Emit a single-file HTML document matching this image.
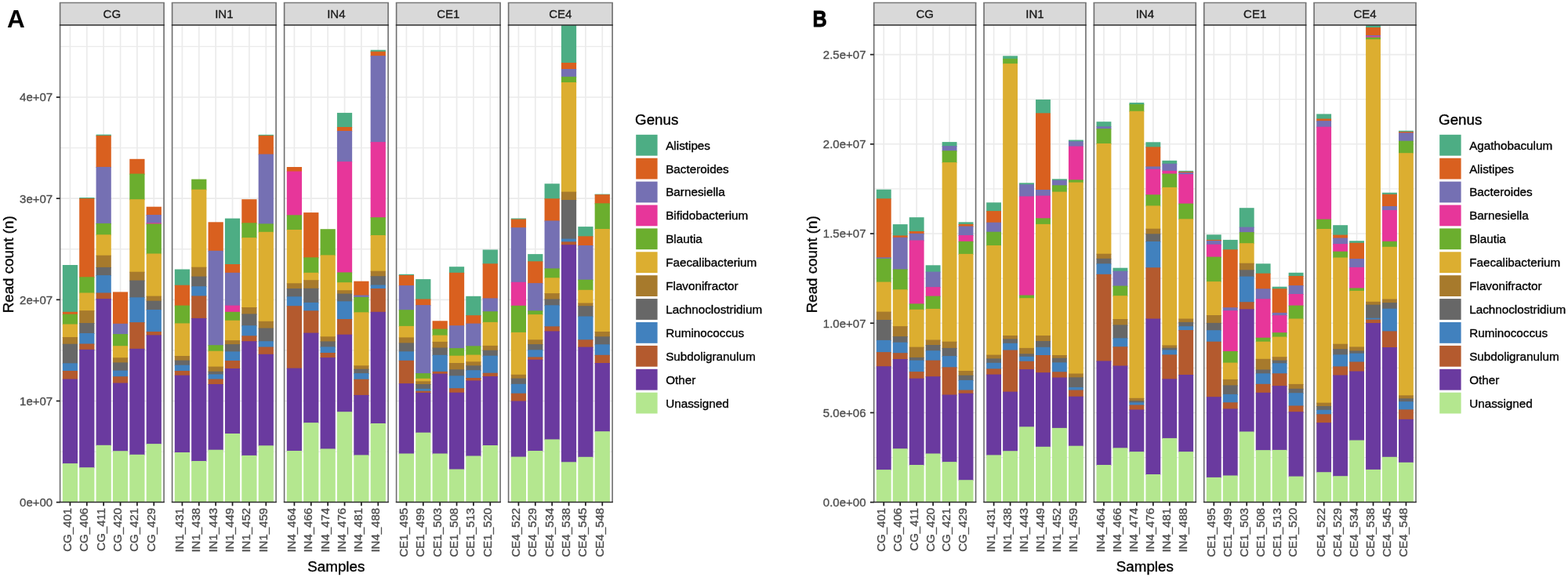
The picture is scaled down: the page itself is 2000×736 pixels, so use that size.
<!DOCTYPE html><html><head><meta charset="utf-8"><style>html,body{margin:0;padding:0;background:#fff;}svg{display:block;}text{paint-order:stroke;stroke-width:0.35px;stroke-linejoin:round;}</style></head><body>
<svg width="2000" height="736" viewBox="0 0 2000 736" font-family="'Liberation Sans', Arial, Helvetica, sans-serif">
<rect width="2000" height="736" fill="#fff"/>
<line x1="76.6" y1="576.07" x2="209.1" y2="576.07" stroke="#EBEBEB" stroke-width="1.3"/>
<line x1="76.6" y1="446.91" x2="209.1" y2="446.91" stroke="#EBEBEB" stroke-width="1.3"/>
<line x1="76.6" y1="317.75" x2="209.1" y2="317.75" stroke="#EBEBEB" stroke-width="1.3"/>
<line x1="76.6" y1="188.59" x2="209.1" y2="188.59" stroke="#EBEBEB" stroke-width="1.3"/>
<line x1="76.6" y1="59.43" x2="209.1" y2="59.43" stroke="#EBEBEB" stroke-width="1.3"/>
<line x1="76.6" y1="640.65" x2="209.1" y2="640.65" stroke="#EBEBEB" stroke-width="1.6"/>
<line x1="76.6" y1="511.49" x2="209.1" y2="511.49" stroke="#EBEBEB" stroke-width="1.6"/>
<line x1="76.6" y1="382.33" x2="209.1" y2="382.33" stroke="#EBEBEB" stroke-width="1.6"/>
<line x1="76.6" y1="253.17" x2="209.1" y2="253.17" stroke="#EBEBEB" stroke-width="1.6"/>
<line x1="76.6" y1="124.01" x2="209.1" y2="124.01" stroke="#EBEBEB" stroke-width="1.6"/>
<line x1="89.42" y1="32.0" x2="89.42" y2="640.5" stroke="#EBEBEB" stroke-width="1.7"/>
<line x1="110.79" y1="32.0" x2="110.79" y2="640.5" stroke="#EBEBEB" stroke-width="1.7"/>
<line x1="132.16" y1="32.0" x2="132.16" y2="640.5" stroke="#EBEBEB" stroke-width="1.7"/>
<line x1="153.54" y1="32.0" x2="153.54" y2="640.5" stroke="#EBEBEB" stroke-width="1.7"/>
<line x1="174.91" y1="32.0" x2="174.91" y2="640.5" stroke="#EBEBEB" stroke-width="1.7"/>
<line x1="196.28" y1="32.0" x2="196.28" y2="640.5" stroke="#EBEBEB" stroke-width="1.7"/>
<rect x="79.81" y="338" width="19.23" height="60.8" fill="#4DAD84"/>
<rect x="79.81" y="397.8" width="19.23" height="3.9" fill="#D9601F"/>
<rect x="79.81" y="400.7" width="19.23" height="13.8" fill="#6BAE2E"/>
<rect x="79.81" y="413.5" width="19.23" height="17.5" fill="#DCAE30"/>
<rect x="79.81" y="430" width="19.23" height="9.7" fill="#A77A2C"/>
<rect x="79.81" y="438.7" width="19.23" height="25.6" fill="#676767"/>
<rect x="79.81" y="463.3" width="19.23" height="10.7" fill="#4181BE"/>
<rect x="79.81" y="473" width="19.23" height="11.5" fill="#B45A2E"/>
<rect x="79.81" y="483.5" width="19.23" height="108.6" fill="#6A3A9F"/>
<rect x="79.81" y="591.1" width="19.23" height="49.4" fill="#B4E78F"/>
<rect x="101.18" y="252" width="19.23" height="2.1" fill="#4DAD84"/>
<rect x="101.18" y="253.1" width="19.23" height="101.2" fill="#D9601F"/>
<rect x="101.18" y="353.3" width="19.23" height="21.2" fill="#6BAE2E"/>
<rect x="101.18" y="373.5" width="19.23" height="23.6" fill="#DCAE30"/>
<rect x="101.18" y="396.1" width="19.23" height="16.9" fill="#A77A2C"/>
<rect x="101.18" y="412" width="19.23" height="14" fill="#676767"/>
<rect x="101.18" y="425" width="19.23" height="14.5" fill="#4181BE"/>
<rect x="101.18" y="438.5" width="19.23" height="8.3" fill="#B45A2E"/>
<rect x="101.18" y="445.8" width="19.23" height="151.4" fill="#6A3A9F"/>
<rect x="101.18" y="596.2" width="19.23" height="44.3" fill="#B4E78F"/>
<rect x="122.55" y="171.6" width="19.23" height="2.3" fill="#4DAD84"/>
<rect x="122.55" y="172.9" width="19.23" height="41" fill="#D9601F"/>
<rect x="122.55" y="212.9" width="19.23" height="73" fill="#7570B3"/>
<rect x="122.55" y="284.9" width="19.23" height="15.4" fill="#6BAE2E"/>
<rect x="122.55" y="299.3" width="19.23" height="27.4" fill="#DCAE30"/>
<rect x="122.55" y="325.7" width="19.23" height="16.2" fill="#A77A2C"/>
<rect x="122.55" y="340.9" width="19.23" height="11.2" fill="#676767"/>
<rect x="122.55" y="351.1" width="19.23" height="23.4" fill="#4181BE"/>
<rect x="122.55" y="373.5" width="19.23" height="8.6" fill="#B45A2E"/>
<rect x="122.55" y="381.1" width="19.23" height="187.7" fill="#6A3A9F"/>
<rect x="122.55" y="567.8" width="19.23" height="72.7" fill="#B4E78F"/>
<rect x="143.92" y="372.4" width="19.23" height="41.4" fill="#D9601F"/>
<rect x="143.92" y="412.8" width="19.23" height="14.3" fill="#7570B3"/>
<rect x="143.92" y="426.1" width="19.23" height="16.1" fill="#6BAE2E"/>
<rect x="143.92" y="441.2" width="19.23" height="16" fill="#DCAE30"/>
<rect x="143.92" y="456.2" width="19.23" height="7.2" fill="#A77A2C"/>
<rect x="143.92" y="462.4" width="19.23" height="11.2" fill="#676767"/>
<rect x="143.92" y="472.6" width="19.23" height="8.6" fill="#4181BE"/>
<rect x="143.92" y="480.2" width="19.23" height="9.3" fill="#B45A2E"/>
<rect x="143.92" y="488.5" width="19.23" height="87.7" fill="#6A3A9F"/>
<rect x="143.92" y="575.2" width="19.23" height="65.3" fill="#B4E78F"/>
<rect x="165.29" y="202.8" width="19.23" height="19.8" fill="#D9601F"/>
<rect x="165.29" y="221.6" width="19.23" height="33.6" fill="#6BAE2E"/>
<rect x="165.29" y="254.2" width="19.23" height="93.5" fill="#DCAE30"/>
<rect x="165.29" y="346.7" width="19.23" height="11.9" fill="#A77A2C"/>
<rect x="165.29" y="357.6" width="19.23" height="22.7" fill="#676767"/>
<rect x="165.29" y="379.3" width="19.23" height="32.8" fill="#4181BE"/>
<rect x="165.29" y="411.1" width="19.23" height="34.7" fill="#B45A2E"/>
<rect x="165.29" y="444.8" width="19.23" height="136" fill="#6A3A9F"/>
<rect x="165.29" y="579.8" width="19.23" height="60.7" fill="#B4E78F"/>
<rect x="186.66" y="263.7" width="19.23" height="11.3" fill="#D9601F"/>
<rect x="186.66" y="274" width="19.23" height="11.3" fill="#7570B3"/>
<rect x="186.66" y="284.3" width="19.23" height="2.1" fill="#E7369A"/>
<rect x="186.66" y="285.4" width="19.23" height="39.1" fill="#6BAE2E"/>
<rect x="186.66" y="323.5" width="19.23" height="55.1" fill="#DCAE30"/>
<rect x="186.66" y="377.6" width="19.23" height="7.1" fill="#A77A2C"/>
<rect x="186.66" y="383.7" width="19.23" height="12.3" fill="#676767"/>
<rect x="186.66" y="395" width="19.23" height="29" fill="#4181BE"/>
<rect x="186.66" y="423" width="19.23" height="5.4" fill="#B45A2E"/>
<rect x="186.66" y="427.4" width="19.23" height="139.7" fill="#6A3A9F"/>
<rect x="186.66" y="566.1" width="19.23" height="74.4" fill="#B4E78F"/>
<rect x="76.6" y="3.5" width="132.5" height="28.5" fill="#D9D9D9"/>
<path d="M76.6,640.5 V3.5 M209.1,640.5 V3.5" stroke="#6E6E6E" stroke-width="1.6" fill="none"/>
<path d="M75.8,3.5 H209.9" stroke="#7A7A7A" stroke-width="1.6" fill="none"/>
<path d="M75.8,32 H209.9 M75.8,640.5 H209.9" stroke="#2E2E2E" stroke-width="1.6" fill="none"/>
<text x="142.85" y="23" font-size="15" fill="#1A1A1A" stroke="#1A1A1A" text-anchor="middle">CG</text>
<line x1="89.42" y1="640.5" x2="89.42" y2="645.3" stroke="#1E1E1E" stroke-width="1.7"/>
<text transform="translate(90.82,647.9) rotate(-90)" font-size="15" fill="#4D4D4D" stroke="#4D4D4D" text-anchor="end">CG_401</text>
<line x1="110.79" y1="640.5" x2="110.79" y2="645.3" stroke="#1E1E1E" stroke-width="1.7"/>
<text transform="translate(112.19,647.9) rotate(-90)" font-size="15" fill="#4D4D4D" stroke="#4D4D4D" text-anchor="end">CG_406</text>
<line x1="132.16" y1="640.5" x2="132.16" y2="645.3" stroke="#1E1E1E" stroke-width="1.7"/>
<text transform="translate(133.56,647.9) rotate(-90)" font-size="15" fill="#4D4D4D" stroke="#4D4D4D" text-anchor="end">CG_411</text>
<line x1="153.54" y1="640.5" x2="153.54" y2="645.3" stroke="#1E1E1E" stroke-width="1.7"/>
<text transform="translate(154.94,647.9) rotate(-90)" font-size="15" fill="#4D4D4D" stroke="#4D4D4D" text-anchor="end">CG_420</text>
<line x1="174.91" y1="640.5" x2="174.91" y2="645.3" stroke="#1E1E1E" stroke-width="1.7"/>
<text transform="translate(176.31,647.9) rotate(-90)" font-size="15" fill="#4D4D4D" stroke="#4D4D4D" text-anchor="end">CG_421</text>
<line x1="196.28" y1="640.5" x2="196.28" y2="645.3" stroke="#1E1E1E" stroke-width="1.7"/>
<text transform="translate(197.68,647.9) rotate(-90)" font-size="15" fill="#4D4D4D" stroke="#4D4D4D" text-anchor="end">CG_429</text>
<line x1="219.6" y1="576.07" x2="352.1" y2="576.07" stroke="#EBEBEB" stroke-width="1.3"/>
<line x1="219.6" y1="446.91" x2="352.1" y2="446.91" stroke="#EBEBEB" stroke-width="1.3"/>
<line x1="219.6" y1="317.75" x2="352.1" y2="317.75" stroke="#EBEBEB" stroke-width="1.3"/>
<line x1="219.6" y1="188.59" x2="352.1" y2="188.59" stroke="#EBEBEB" stroke-width="1.3"/>
<line x1="219.6" y1="59.43" x2="352.1" y2="59.43" stroke="#EBEBEB" stroke-width="1.3"/>
<line x1="219.6" y1="640.65" x2="352.1" y2="640.65" stroke="#EBEBEB" stroke-width="1.6"/>
<line x1="219.6" y1="511.49" x2="352.1" y2="511.49" stroke="#EBEBEB" stroke-width="1.6"/>
<line x1="219.6" y1="382.33" x2="352.1" y2="382.33" stroke="#EBEBEB" stroke-width="1.6"/>
<line x1="219.6" y1="253.17" x2="352.1" y2="253.17" stroke="#EBEBEB" stroke-width="1.6"/>
<line x1="219.6" y1="124.01" x2="352.1" y2="124.01" stroke="#EBEBEB" stroke-width="1.6"/>
<line x1="232.42" y1="32.0" x2="232.42" y2="640.5" stroke="#EBEBEB" stroke-width="1.7"/>
<line x1="253.79" y1="32.0" x2="253.79" y2="640.5" stroke="#EBEBEB" stroke-width="1.7"/>
<line x1="275.16" y1="32.0" x2="275.16" y2="640.5" stroke="#EBEBEB" stroke-width="1.7"/>
<line x1="296.54" y1="32.0" x2="296.54" y2="640.5" stroke="#EBEBEB" stroke-width="1.7"/>
<line x1="317.91" y1="32.0" x2="317.91" y2="640.5" stroke="#EBEBEB" stroke-width="1.7"/>
<line x1="339.28" y1="32.0" x2="339.28" y2="640.5" stroke="#EBEBEB" stroke-width="1.7"/>
<rect x="222.81" y="343.5" width="19.23" height="21.2" fill="#4DAD84"/>
<rect x="222.81" y="363.7" width="19.23" height="26.9" fill="#D9601F"/>
<rect x="222.81" y="389.6" width="19.23" height="23.8" fill="#6BAE2E"/>
<rect x="222.81" y="412.4" width="19.23" height="42.6" fill="#DCAE30"/>
<rect x="222.81" y="454" width="19.23" height="6.6" fill="#A77A2C"/>
<rect x="222.81" y="459.6" width="19.23" height="7.1" fill="#676767"/>
<rect x="222.81" y="465.7" width="19.23" height="8.3" fill="#4181BE"/>
<rect x="222.81" y="473" width="19.23" height="6.7" fill="#B45A2E"/>
<rect x="222.81" y="478.7" width="19.23" height="99.3" fill="#6A3A9F"/>
<rect x="222.81" y="577" width="19.23" height="63.5" fill="#B4E78F"/>
<rect x="244.18" y="228.6" width="19.23" height="14.1" fill="#6BAE2E"/>
<rect x="244.18" y="241.7" width="19.23" height="100" fill="#DCAE30"/>
<rect x="244.18" y="340.7" width="19.23" height="12.9" fill="#A77A2C"/>
<rect x="244.18" y="352.6" width="19.23" height="13.6" fill="#676767"/>
<rect x="244.18" y="365.2" width="19.23" height="13.2" fill="#4181BE"/>
<rect x="244.18" y="377.4" width="19.23" height="29.5" fill="#B45A2E"/>
<rect x="244.18" y="405.9" width="19.23" height="183.1" fill="#6A3A9F"/>
<rect x="244.18" y="588" width="19.23" height="52.5" fill="#B4E78F"/>
<rect x="265.55" y="283.3" width="19.23" height="37.5" fill="#D9601F"/>
<rect x="265.55" y="319.8" width="19.23" height="121.4" fill="#7570B3"/>
<rect x="265.55" y="440.2" width="19.23" height="8.5" fill="#6BAE2E"/>
<rect x="265.55" y="447.7" width="19.23" height="20.9" fill="#DCAE30"/>
<rect x="265.55" y="467.6" width="19.23" height="7.1" fill="#A77A2C"/>
<rect x="265.55" y="473.7" width="19.23" height="4.7" fill="#676767"/>
<rect x="265.55" y="477.4" width="19.23" height="7.1" fill="#4181BE"/>
<rect x="265.55" y="483.5" width="19.23" height="7.5" fill="#B45A2E"/>
<rect x="265.55" y="490" width="19.23" height="84.7" fill="#6A3A9F"/>
<rect x="265.55" y="573.7" width="19.23" height="66.8" fill="#B4E78F"/>
<rect x="286.92" y="278.6" width="19.23" height="59.4" fill="#4DAD84"/>
<rect x="286.92" y="337" width="19.23" height="11.8" fill="#D9601F"/>
<rect x="286.92" y="347.8" width="19.23" height="42.8" fill="#7570B3"/>
<rect x="286.92" y="389.6" width="19.23" height="9.2" fill="#E7369A"/>
<rect x="286.92" y="397.8" width="19.23" height="11.9" fill="#6BAE2E"/>
<rect x="286.92" y="408.7" width="19.23" height="26.4" fill="#DCAE30"/>
<rect x="286.92" y="434.1" width="19.23" height="6" fill="#A77A2C"/>
<rect x="286.92" y="439.1" width="19.23" height="10.3" fill="#676767"/>
<rect x="286.92" y="448.4" width="19.23" height="12.6" fill="#4181BE"/>
<rect x="286.92" y="460" width="19.23" height="11" fill="#B45A2E"/>
<rect x="286.92" y="470" width="19.23" height="84" fill="#6A3A9F"/>
<rect x="286.92" y="553" width="19.23" height="87.5" fill="#B4E78F"/>
<rect x="308.29" y="254.2" width="19.23" height="31.1" fill="#D9601F"/>
<rect x="308.29" y="284.3" width="19.23" height="19.8" fill="#6BAE2E"/>
<rect x="308.29" y="303.1" width="19.23" height="89.9" fill="#DCAE30"/>
<rect x="308.29" y="392" width="19.23" height="9.4" fill="#A77A2C"/>
<rect x="308.29" y="400.4" width="19.23" height="15.8" fill="#676767"/>
<rect x="308.29" y="415.2" width="19.23" height="14.1" fill="#4181BE"/>
<rect x="308.29" y="428.3" width="19.23" height="7.9" fill="#B45A2E"/>
<rect x="308.29" y="435.2" width="19.23" height="146.7" fill="#6A3A9F"/>
<rect x="308.29" y="580.9" width="19.23" height="59.6" fill="#B4E78F"/>
<rect x="329.66" y="171.8" width="19.23" height="2.1" fill="#4DAD84"/>
<rect x="329.66" y="172.9" width="19.23" height="24.7" fill="#D9601F"/>
<rect x="329.66" y="196.6" width="19.23" height="89.8" fill="#7570B3"/>
<rect x="329.66" y="285.4" width="19.23" height="11.4" fill="#6BAE2E"/>
<rect x="329.66" y="295.8" width="19.23" height="115" fill="#DCAE30"/>
<rect x="329.66" y="409.8" width="19.23" height="9.7" fill="#A77A2C"/>
<rect x="329.66" y="418.5" width="19.23" height="17.7" fill="#676767"/>
<rect x="329.66" y="435.2" width="19.23" height="8.3" fill="#4181BE"/>
<rect x="329.66" y="442.5" width="19.23" height="10.3" fill="#B45A2E"/>
<rect x="329.66" y="451.8" width="19.23" height="117.5" fill="#6A3A9F"/>
<rect x="329.66" y="568.3" width="19.23" height="72.2" fill="#B4E78F"/>
<rect x="219.6" y="3.5" width="132.5" height="28.5" fill="#D9D9D9"/>
<path d="M219.6,640.5 V3.5 M352.1,640.5 V3.5" stroke="#6E6E6E" stroke-width="1.6" fill="none"/>
<path d="M218.8,3.5 H352.9" stroke="#7A7A7A" stroke-width="1.6" fill="none"/>
<path d="M218.8,32 H352.9 M218.8,640.5 H352.9" stroke="#2E2E2E" stroke-width="1.6" fill="none"/>
<text x="285.85" y="23" font-size="15" fill="#1A1A1A" stroke="#1A1A1A" text-anchor="middle">IN1</text>
<line x1="232.42" y1="640.5" x2="232.42" y2="645.3" stroke="#1E1E1E" stroke-width="1.7"/>
<text transform="translate(233.82,647.9) rotate(-90)" font-size="15" fill="#4D4D4D" stroke="#4D4D4D" text-anchor="end">IN1_431</text>
<line x1="253.79" y1="640.5" x2="253.79" y2="645.3" stroke="#1E1E1E" stroke-width="1.7"/>
<text transform="translate(255.19,647.9) rotate(-90)" font-size="15" fill="#4D4D4D" stroke="#4D4D4D" text-anchor="end">IN1_438</text>
<line x1="275.16" y1="640.5" x2="275.16" y2="645.3" stroke="#1E1E1E" stroke-width="1.7"/>
<text transform="translate(276.56,647.9) rotate(-90)" font-size="15" fill="#4D4D4D" stroke="#4D4D4D" text-anchor="end">IN1_443</text>
<line x1="296.54" y1="640.5" x2="296.54" y2="645.3" stroke="#1E1E1E" stroke-width="1.7"/>
<text transform="translate(297.94,647.9) rotate(-90)" font-size="15" fill="#4D4D4D" stroke="#4D4D4D" text-anchor="end">IN1_449</text>
<line x1="317.91" y1="640.5" x2="317.91" y2="645.3" stroke="#1E1E1E" stroke-width="1.7"/>
<text transform="translate(319.31,647.9) rotate(-90)" font-size="15" fill="#4D4D4D" stroke="#4D4D4D" text-anchor="end">IN1_452</text>
<line x1="339.28" y1="640.5" x2="339.28" y2="645.3" stroke="#1E1E1E" stroke-width="1.7"/>
<text transform="translate(340.68,647.9) rotate(-90)" font-size="15" fill="#4D4D4D" stroke="#4D4D4D" text-anchor="end">IN1_459</text>
<line x1="362.6" y1="576.07" x2="495.1" y2="576.07" stroke="#EBEBEB" stroke-width="1.3"/>
<line x1="362.6" y1="446.91" x2="495.1" y2="446.91" stroke="#EBEBEB" stroke-width="1.3"/>
<line x1="362.6" y1="317.75" x2="495.1" y2="317.75" stroke="#EBEBEB" stroke-width="1.3"/>
<line x1="362.6" y1="188.59" x2="495.1" y2="188.59" stroke="#EBEBEB" stroke-width="1.3"/>
<line x1="362.6" y1="59.43" x2="495.1" y2="59.43" stroke="#EBEBEB" stroke-width="1.3"/>
<line x1="362.6" y1="640.65" x2="495.1" y2="640.65" stroke="#EBEBEB" stroke-width="1.6"/>
<line x1="362.6" y1="511.49" x2="495.1" y2="511.49" stroke="#EBEBEB" stroke-width="1.6"/>
<line x1="362.6" y1="382.33" x2="495.1" y2="382.33" stroke="#EBEBEB" stroke-width="1.6"/>
<line x1="362.6" y1="253.17" x2="495.1" y2="253.17" stroke="#EBEBEB" stroke-width="1.6"/>
<line x1="362.6" y1="124.01" x2="495.1" y2="124.01" stroke="#EBEBEB" stroke-width="1.6"/>
<line x1="375.42" y1="32.0" x2="375.42" y2="640.5" stroke="#EBEBEB" stroke-width="1.7"/>
<line x1="396.79" y1="32.0" x2="396.79" y2="640.5" stroke="#EBEBEB" stroke-width="1.7"/>
<line x1="418.16" y1="32.0" x2="418.16" y2="640.5" stroke="#EBEBEB" stroke-width="1.7"/>
<line x1="439.54" y1="32.0" x2="439.54" y2="640.5" stroke="#EBEBEB" stroke-width="1.7"/>
<line x1="460.91" y1="32.0" x2="460.91" y2="640.5" stroke="#EBEBEB" stroke-width="1.7"/>
<line x1="482.28" y1="32.0" x2="482.28" y2="640.5" stroke="#EBEBEB" stroke-width="1.7"/>
<rect x="365.81" y="213" width="19.23" height="6.5" fill="#D9601F"/>
<rect x="365.81" y="218.5" width="19.23" height="56.8" fill="#E7369A"/>
<rect x="365.81" y="274.3" width="19.23" height="19.7" fill="#6BAE2E"/>
<rect x="365.81" y="293" width="19.23" height="69.3" fill="#DCAE30"/>
<rect x="365.81" y="361.3" width="19.23" height="7.7" fill="#A77A2C"/>
<rect x="365.81" y="368" width="19.23" height="11.3" fill="#676767"/>
<rect x="365.81" y="378.3" width="19.23" height="12.9" fill="#4181BE"/>
<rect x="365.81" y="390.2" width="19.23" height="80.4" fill="#B45A2E"/>
<rect x="365.81" y="469.6" width="19.23" height="106.4" fill="#6A3A9F"/>
<rect x="365.81" y="575" width="19.23" height="65.5" fill="#B4E78F"/>
<rect x="387.18" y="271.1" width="19.23" height="58.2" fill="#D9601F"/>
<rect x="387.18" y="328.3" width="19.23" height="20.5" fill="#6BAE2E"/>
<rect x="387.18" y="347.8" width="19.23" height="10.4" fill="#DCAE30"/>
<rect x="387.18" y="357.2" width="19.23" height="11.6" fill="#A77A2C"/>
<rect x="387.18" y="367.8" width="19.23" height="19.1" fill="#676767"/>
<rect x="387.18" y="385.9" width="19.23" height="11.4" fill="#4181BE"/>
<rect x="387.18" y="396.3" width="19.23" height="29.3" fill="#B45A2E"/>
<rect x="387.18" y="424.6" width="19.23" height="115.5" fill="#6A3A9F"/>
<rect x="387.18" y="539.1" width="19.23" height="101.4" fill="#B4E78F"/>
<rect x="408.55" y="292.2" width="19.23" height="34.2" fill="#6BAE2E"/>
<rect x="408.55" y="325.4" width="19.23" height="104.9" fill="#DCAE30"/>
<rect x="408.55" y="429.3" width="19.23" height="7.1" fill="#A77A2C"/>
<rect x="408.55" y="435.4" width="19.23" height="8" fill="#676767"/>
<rect x="408.55" y="442.4" width="19.23" height="8.6" fill="#4181BE"/>
<rect x="408.55" y="450" width="19.23" height="7.1" fill="#B45A2E"/>
<rect x="408.55" y="456.1" width="19.23" height="117.3" fill="#6A3A9F"/>
<rect x="408.55" y="572.4" width="19.23" height="68.1" fill="#B4E78F"/>
<rect x="429.92" y="143.9" width="19.23" height="19.1" fill="#4DAD84"/>
<rect x="429.92" y="162" width="19.23" height="6" fill="#D9601F"/>
<rect x="429.92" y="167" width="19.23" height="40.1" fill="#7570B3"/>
<rect x="429.92" y="206.1" width="19.23" height="142.3" fill="#E7369A"/>
<rect x="429.92" y="347.4" width="19.23" height="13.8" fill="#6BAE2E"/>
<rect x="429.92" y="360.2" width="19.23" height="11" fill="#DCAE30"/>
<rect x="429.92" y="370.2" width="19.23" height="5.4" fill="#A77A2C"/>
<rect x="429.92" y="374.6" width="19.23" height="10.7" fill="#676767"/>
<rect x="429.92" y="384.3" width="19.23" height="23.7" fill="#4181BE"/>
<rect x="429.92" y="407" width="19.23" height="20.7" fill="#B45A2E"/>
<rect x="429.92" y="426.7" width="19.23" height="99.5" fill="#6A3A9F"/>
<rect x="429.92" y="525.2" width="19.23" height="115.3" fill="#B4E78F"/>
<rect x="451.29" y="358.7" width="19.23" height="18.8" fill="#D9601F"/>
<rect x="451.29" y="376.5" width="19.23" height="3.4" fill="#7570B3"/>
<rect x="451.29" y="378.9" width="19.23" height="20.4" fill="#6BAE2E"/>
<rect x="451.29" y="398.3" width="19.23" height="69" fill="#DCAE30"/>
<rect x="451.29" y="466.3" width="19.23" height="5.4" fill="#A77A2C"/>
<rect x="451.29" y="470.7" width="19.23" height="6.4" fill="#676767"/>
<rect x="451.29" y="476.1" width="19.23" height="8.6" fill="#4181BE"/>
<rect x="451.29" y="483.7" width="19.23" height="21.2" fill="#B45A2E"/>
<rect x="451.29" y="503.9" width="19.23" height="77.5" fill="#6A3A9F"/>
<rect x="451.29" y="580.4" width="19.23" height="60.1" fill="#B4E78F"/>
<rect x="472.66" y="63.7" width="19.23" height="3" fill="#4DAD84"/>
<rect x="472.66" y="65.7" width="19.23" height="6.4" fill="#D9601F"/>
<rect x="472.66" y="71.1" width="19.23" height="111" fill="#7570B3"/>
<rect x="472.66" y="181.1" width="19.23" height="97.1" fill="#E7369A"/>
<rect x="472.66" y="277.2" width="19.23" height="23.8" fill="#6BAE2E"/>
<rect x="472.66" y="300" width="19.23" height="46.7" fill="#DCAE30"/>
<rect x="472.66" y="345.7" width="19.23" height="7.5" fill="#A77A2C"/>
<rect x="472.66" y="352.2" width="19.23" height="12.3" fill="#676767"/>
<rect x="472.66" y="363.5" width="19.23" height="5.5" fill="#4181BE"/>
<rect x="472.66" y="368" width="19.23" height="30.8" fill="#B45A2E"/>
<rect x="472.66" y="397.8" width="19.23" height="143.2" fill="#6A3A9F"/>
<rect x="472.66" y="540" width="19.23" height="100.5" fill="#B4E78F"/>
<rect x="362.6" y="3.5" width="132.5" height="28.5" fill="#D9D9D9"/>
<path d="M362.6,640.5 V3.5 M495.1,640.5 V3.5" stroke="#6E6E6E" stroke-width="1.6" fill="none"/>
<path d="M361.8,3.5 H495.9" stroke="#7A7A7A" stroke-width="1.6" fill="none"/>
<path d="M361.8,32 H495.9 M361.8,640.5 H495.9" stroke="#2E2E2E" stroke-width="1.6" fill="none"/>
<text x="428.85" y="23" font-size="15" fill="#1A1A1A" stroke="#1A1A1A" text-anchor="middle">IN4</text>
<line x1="375.42" y1="640.5" x2="375.42" y2="645.3" stroke="#1E1E1E" stroke-width="1.7"/>
<text transform="translate(376.82,647.9) rotate(-90)" font-size="15" fill="#4D4D4D" stroke="#4D4D4D" text-anchor="end">IN4_464</text>
<line x1="396.79" y1="640.5" x2="396.79" y2="645.3" stroke="#1E1E1E" stroke-width="1.7"/>
<text transform="translate(398.19,647.9) rotate(-90)" font-size="15" fill="#4D4D4D" stroke="#4D4D4D" text-anchor="end">IN4_466</text>
<line x1="418.16" y1="640.5" x2="418.16" y2="645.3" stroke="#1E1E1E" stroke-width="1.7"/>
<text transform="translate(419.56,647.9) rotate(-90)" font-size="15" fill="#4D4D4D" stroke="#4D4D4D" text-anchor="end">IN4_474</text>
<line x1="439.54" y1="640.5" x2="439.54" y2="645.3" stroke="#1E1E1E" stroke-width="1.7"/>
<text transform="translate(440.94,647.9) rotate(-90)" font-size="15" fill="#4D4D4D" stroke="#4D4D4D" text-anchor="end">IN4_476</text>
<line x1="460.91" y1="640.5" x2="460.91" y2="645.3" stroke="#1E1E1E" stroke-width="1.7"/>
<text transform="translate(462.31,647.9) rotate(-90)" font-size="15" fill="#4D4D4D" stroke="#4D4D4D" text-anchor="end">IN4_481</text>
<line x1="482.28" y1="640.5" x2="482.28" y2="645.3" stroke="#1E1E1E" stroke-width="1.7"/>
<text transform="translate(483.68,647.9) rotate(-90)" font-size="15" fill="#4D4D4D" stroke="#4D4D4D" text-anchor="end">IN4_488</text>
<line x1="505.6" y1="576.07" x2="638.1" y2="576.07" stroke="#EBEBEB" stroke-width="1.3"/>
<line x1="505.6" y1="446.91" x2="638.1" y2="446.91" stroke="#EBEBEB" stroke-width="1.3"/>
<line x1="505.6" y1="317.75" x2="638.1" y2="317.75" stroke="#EBEBEB" stroke-width="1.3"/>
<line x1="505.6" y1="188.59" x2="638.1" y2="188.59" stroke="#EBEBEB" stroke-width="1.3"/>
<line x1="505.6" y1="59.43" x2="638.1" y2="59.43" stroke="#EBEBEB" stroke-width="1.3"/>
<line x1="505.6" y1="640.65" x2="638.1" y2="640.65" stroke="#EBEBEB" stroke-width="1.6"/>
<line x1="505.6" y1="511.49" x2="638.1" y2="511.49" stroke="#EBEBEB" stroke-width="1.6"/>
<line x1="505.6" y1="382.33" x2="638.1" y2="382.33" stroke="#EBEBEB" stroke-width="1.6"/>
<line x1="505.6" y1="253.17" x2="638.1" y2="253.17" stroke="#EBEBEB" stroke-width="1.6"/>
<line x1="505.6" y1="124.01" x2="638.1" y2="124.01" stroke="#EBEBEB" stroke-width="1.6"/>
<line x1="518.42" y1="32.0" x2="518.42" y2="640.5" stroke="#EBEBEB" stroke-width="1.7"/>
<line x1="539.79" y1="32.0" x2="539.79" y2="640.5" stroke="#EBEBEB" stroke-width="1.7"/>
<line x1="561.16" y1="32.0" x2="561.16" y2="640.5" stroke="#EBEBEB" stroke-width="1.7"/>
<line x1="582.54" y1="32.0" x2="582.54" y2="640.5" stroke="#EBEBEB" stroke-width="1.7"/>
<line x1="603.91" y1="32.0" x2="603.91" y2="640.5" stroke="#EBEBEB" stroke-width="1.7"/>
<line x1="625.28" y1="32.0" x2="625.28" y2="640.5" stroke="#EBEBEB" stroke-width="1.7"/>
<rect x="508.81" y="349.8" width="19.23" height="2.2" fill="#4DAD84"/>
<rect x="508.81" y="351" width="19.23" height="14.1" fill="#D9601F"/>
<rect x="508.81" y="364.1" width="19.23" height="32.1" fill="#7570B3"/>
<rect x="508.81" y="395.2" width="19.23" height="21.7" fill="#6BAE2E"/>
<rect x="508.81" y="415.9" width="19.23" height="15.5" fill="#DCAE30"/>
<rect x="508.81" y="430.4" width="19.23" height="8" fill="#A77A2C"/>
<rect x="508.81" y="437.4" width="19.23" height="11.9" fill="#676767"/>
<rect x="508.81" y="448.3" width="19.23" height="12.5" fill="#4181BE"/>
<rect x="508.81" y="459.8" width="19.23" height="30.3" fill="#B45A2E"/>
<rect x="508.81" y="489.1" width="19.23" height="90.4" fill="#6A3A9F"/>
<rect x="508.81" y="578.5" width="19.23" height="62" fill="#B4E78F"/>
<rect x="530.18" y="356.1" width="19.23" height="26.4" fill="#4DAD84"/>
<rect x="530.18" y="381.5" width="19.23" height="8.6" fill="#D9601F"/>
<rect x="530.18" y="389.1" width="19.23" height="88" fill="#7570B3"/>
<rect x="530.18" y="476.1" width="19.23" height="7.7" fill="#6BAE2E"/>
<rect x="530.18" y="482.8" width="19.23" height="4.5" fill="#DCAE30"/>
<rect x="530.18" y="486.3" width="19.23" height="4.7" fill="#A77A2C"/>
<rect x="530.18" y="490" width="19.23" height="6.9" fill="#676767"/>
<rect x="530.18" y="495.9" width="19.23" height="3.8" fill="#4181BE"/>
<rect x="530.18" y="498.7" width="19.23" height="3.2" fill="#B45A2E"/>
<rect x="530.18" y="500.9" width="19.23" height="51.8" fill="#6A3A9F"/>
<rect x="530.18" y="551.7" width="19.23" height="88.8" fill="#B4E78F"/>
<rect x="551.55" y="409.3" width="19.23" height="11.3" fill="#D9601F"/>
<rect x="551.55" y="419.6" width="19.23" height="9" fill="#6BAE2E"/>
<rect x="551.55" y="427.6" width="19.23" height="9.3" fill="#DCAE30"/>
<rect x="551.55" y="435.9" width="19.23" height="8.6" fill="#A77A2C"/>
<rect x="551.55" y="443.5" width="19.23" height="10.3" fill="#676767"/>
<rect x="551.55" y="452.8" width="19.23" height="22.1" fill="#4181BE"/>
<rect x="551.55" y="473.9" width="19.23" height="3.8" fill="#B45A2E"/>
<rect x="551.55" y="476.7" width="19.23" height="102.8" fill="#6A3A9F"/>
<rect x="551.55" y="578.5" width="19.23" height="62" fill="#B4E78F"/>
<rect x="572.92" y="340.2" width="19.23" height="8.6" fill="#4DAD84"/>
<rect x="572.92" y="347.8" width="19.23" height="68.4" fill="#D9601F"/>
<rect x="572.92" y="415.2" width="19.23" height="29.9" fill="#7570B3"/>
<rect x="572.92" y="444.1" width="19.23" height="10.6" fill="#6BAE2E"/>
<rect x="572.92" y="453.7" width="19.23" height="10.3" fill="#DCAE30"/>
<rect x="572.92" y="463" width="19.23" height="9.3" fill="#A77A2C"/>
<rect x="572.92" y="471.3" width="19.23" height="9" fill="#676767"/>
<rect x="572.92" y="479.3" width="19.23" height="16.9" fill="#4181BE"/>
<rect x="572.92" y="495.2" width="19.23" height="6.5" fill="#B45A2E"/>
<rect x="572.92" y="500.7" width="19.23" height="98.8" fill="#6A3A9F"/>
<rect x="572.92" y="598.5" width="19.23" height="42" fill="#B4E78F"/>
<rect x="594.29" y="377.8" width="19.23" height="25.4" fill="#4DAD84"/>
<rect x="594.29" y="402.2" width="19.23" height="11.4" fill="#D9601F"/>
<rect x="594.29" y="412.6" width="19.23" height="29.7" fill="#7570B3"/>
<rect x="594.29" y="441.3" width="19.23" height="12.3" fill="#6BAE2E"/>
<rect x="594.29" y="452.6" width="19.23" height="9.7" fill="#DCAE30"/>
<rect x="594.29" y="461.3" width="19.23" height="6" fill="#A77A2C"/>
<rect x="594.29" y="466.3" width="19.23" height="6.9" fill="#676767"/>
<rect x="594.29" y="472.2" width="19.23" height="10.8" fill="#4181BE"/>
<rect x="594.29" y="482" width="19.23" height="4.4" fill="#B45A2E"/>
<rect x="594.29" y="485.4" width="19.23" height="97.1" fill="#6A3A9F"/>
<rect x="594.29" y="581.5" width="19.23" height="59" fill="#B4E78F"/>
<rect x="615.66" y="318.5" width="19.23" height="18.8" fill="#4DAD84"/>
<rect x="615.66" y="336.3" width="19.23" height="45.1" fill="#D9601F"/>
<rect x="615.66" y="380.4" width="19.23" height="17.8" fill="#7570B3"/>
<rect x="615.66" y="397.2" width="19.23" height="14.7" fill="#6BAE2E"/>
<rect x="615.66" y="410.9" width="19.23" height="31" fill="#DCAE30"/>
<rect x="615.66" y="440.9" width="19.23" height="6.8" fill="#A77A2C"/>
<rect x="615.66" y="446.7" width="19.23" height="8" fill="#676767"/>
<rect x="615.66" y="453.7" width="19.23" height="23" fill="#4181BE"/>
<rect x="615.66" y="475.7" width="19.23" height="5.3" fill="#B45A2E"/>
<rect x="615.66" y="480" width="19.23" height="89" fill="#6A3A9F"/>
<rect x="615.66" y="568" width="19.23" height="72.5" fill="#B4E78F"/>
<rect x="505.6" y="3.5" width="132.5" height="28.5" fill="#D9D9D9"/>
<path d="M505.6,640.5 V3.5 M638.1,640.5 V3.5" stroke="#6E6E6E" stroke-width="1.6" fill="none"/>
<path d="M504.8,3.5 H638.9" stroke="#7A7A7A" stroke-width="1.6" fill="none"/>
<path d="M504.8,32 H638.9 M504.8,640.5 H638.9" stroke="#2E2E2E" stroke-width="1.6" fill="none"/>
<text x="571.85" y="23" font-size="15" fill="#1A1A1A" stroke="#1A1A1A" text-anchor="middle">CE1</text>
<line x1="518.42" y1="640.5" x2="518.42" y2="645.3" stroke="#1E1E1E" stroke-width="1.7"/>
<text transform="translate(519.82,647.9) rotate(-90)" font-size="15" fill="#4D4D4D" stroke="#4D4D4D" text-anchor="end">CE1_495</text>
<line x1="539.79" y1="640.5" x2="539.79" y2="645.3" stroke="#1E1E1E" stroke-width="1.7"/>
<text transform="translate(541.19,647.9) rotate(-90)" font-size="15" fill="#4D4D4D" stroke="#4D4D4D" text-anchor="end">CE1_499</text>
<line x1="561.16" y1="640.5" x2="561.16" y2="645.3" stroke="#1E1E1E" stroke-width="1.7"/>
<text transform="translate(562.56,647.9) rotate(-90)" font-size="15" fill="#4D4D4D" stroke="#4D4D4D" text-anchor="end">CE1_503</text>
<line x1="582.54" y1="640.5" x2="582.54" y2="645.3" stroke="#1E1E1E" stroke-width="1.7"/>
<text transform="translate(583.94,647.9) rotate(-90)" font-size="15" fill="#4D4D4D" stroke="#4D4D4D" text-anchor="end">CE1_508</text>
<line x1="603.91" y1="640.5" x2="603.91" y2="645.3" stroke="#1E1E1E" stroke-width="1.7"/>
<text transform="translate(605.31,647.9) rotate(-90)" font-size="15" fill="#4D4D4D" stroke="#4D4D4D" text-anchor="end">CE1_513</text>
<line x1="625.28" y1="640.5" x2="625.28" y2="645.3" stroke="#1E1E1E" stroke-width="1.7"/>
<text transform="translate(626.68,647.9) rotate(-90)" font-size="15" fill="#4D4D4D" stroke="#4D4D4D" text-anchor="end">CE1_520</text>
<line x1="648.6" y1="576.07" x2="781.1" y2="576.07" stroke="#EBEBEB" stroke-width="1.3"/>
<line x1="648.6" y1="446.91" x2="781.1" y2="446.91" stroke="#EBEBEB" stroke-width="1.3"/>
<line x1="648.6" y1="317.75" x2="781.1" y2="317.75" stroke="#EBEBEB" stroke-width="1.3"/>
<line x1="648.6" y1="188.59" x2="781.1" y2="188.59" stroke="#EBEBEB" stroke-width="1.3"/>
<line x1="648.6" y1="59.43" x2="781.1" y2="59.43" stroke="#EBEBEB" stroke-width="1.3"/>
<line x1="648.6" y1="640.65" x2="781.1" y2="640.65" stroke="#EBEBEB" stroke-width="1.6"/>
<line x1="648.6" y1="511.49" x2="781.1" y2="511.49" stroke="#EBEBEB" stroke-width="1.6"/>
<line x1="648.6" y1="382.33" x2="781.1" y2="382.33" stroke="#EBEBEB" stroke-width="1.6"/>
<line x1="648.6" y1="253.17" x2="781.1" y2="253.17" stroke="#EBEBEB" stroke-width="1.6"/>
<line x1="648.6" y1="124.01" x2="781.1" y2="124.01" stroke="#EBEBEB" stroke-width="1.6"/>
<line x1="661.42" y1="32.0" x2="661.42" y2="640.5" stroke="#EBEBEB" stroke-width="1.7"/>
<line x1="682.79" y1="32.0" x2="682.79" y2="640.5" stroke="#EBEBEB" stroke-width="1.7"/>
<line x1="704.16" y1="32.0" x2="704.16" y2="640.5" stroke="#EBEBEB" stroke-width="1.7"/>
<line x1="725.54" y1="32.0" x2="725.54" y2="640.5" stroke="#EBEBEB" stroke-width="1.7"/>
<line x1="746.91" y1="32.0" x2="746.91" y2="640.5" stroke="#EBEBEB" stroke-width="1.7"/>
<line x1="768.28" y1="32.0" x2="768.28" y2="640.5" stroke="#EBEBEB" stroke-width="1.7"/>
<rect x="651.81" y="278.5" width="19.23" height="2.1" fill="#4DAD84"/>
<rect x="651.81" y="279.6" width="19.23" height="11.6" fill="#D9601F"/>
<rect x="651.81" y="290.2" width="19.23" height="70.6" fill="#7570B3"/>
<rect x="651.81" y="359.8" width="19.23" height="31" fill="#E7369A"/>
<rect x="651.81" y="389.8" width="19.23" height="35.1" fill="#6BAE2E"/>
<rect x="651.81" y="423.9" width="19.23" height="54.9" fill="#DCAE30"/>
<rect x="651.81" y="477.8" width="19.23" height="5.8" fill="#A77A2C"/>
<rect x="651.81" y="482.6" width="19.23" height="8.2" fill="#676767"/>
<rect x="651.81" y="489.8" width="19.23" height="12.9" fill="#4181BE"/>
<rect x="651.81" y="501.7" width="19.23" height="10.8" fill="#B45A2E"/>
<rect x="651.81" y="511.5" width="19.23" height="72.1" fill="#6A3A9F"/>
<rect x="651.81" y="582.6" width="19.23" height="57.9" fill="#B4E78F"/>
<rect x="673.18" y="324.1" width="19.23" height="10.2" fill="#4DAD84"/>
<rect x="673.18" y="333.3" width="19.23" height="28.8" fill="#D9601F"/>
<rect x="673.18" y="361.1" width="19.23" height="36.2" fill="#7570B3"/>
<rect x="673.18" y="396.3" width="19.23" height="5.8" fill="#6BAE2E"/>
<rect x="673.18" y="401.1" width="19.23" height="33.2" fill="#DCAE30"/>
<rect x="673.18" y="433.3" width="19.23" height="6.8" fill="#A77A2C"/>
<rect x="673.18" y="439.1" width="19.23" height="8.2" fill="#676767"/>
<rect x="673.18" y="446.3" width="19.23" height="10.1" fill="#4181BE"/>
<rect x="673.18" y="455.4" width="19.23" height="4.3" fill="#B45A2E"/>
<rect x="673.18" y="458.7" width="19.23" height="117.3" fill="#6A3A9F"/>
<rect x="673.18" y="575" width="19.23" height="65.5" fill="#B4E78F"/>
<rect x="694.55" y="234.3" width="19.23" height="20" fill="#4DAD84"/>
<rect x="694.55" y="253.3" width="19.23" height="29.2" fill="#D9601F"/>
<rect x="694.55" y="281.5" width="19.23" height="61.9" fill="#7570B3"/>
<rect x="694.55" y="342.4" width="19.23" height="12.9" fill="#6BAE2E"/>
<rect x="694.55" y="354.3" width="19.23" height="20.8" fill="#DCAE30"/>
<rect x="694.55" y="374.1" width="19.23" height="8.4" fill="#A77A2C"/>
<rect x="694.55" y="381.5" width="19.23" height="8.8" fill="#676767"/>
<rect x="694.55" y="389.3" width="19.23" height="28" fill="#4181BE"/>
<rect x="694.55" y="416.3" width="19.23" height="7.1" fill="#B45A2E"/>
<rect x="694.55" y="422.4" width="19.23" height="139" fill="#6A3A9F"/>
<rect x="694.55" y="560.4" width="19.23" height="80.1" fill="#B4E78F"/>
<rect x="715.92" y="32" width="19.23" height="49" fill="#4DAD84"/>
<rect x="715.92" y="80" width="19.23" height="9" fill="#D9601F"/>
<rect x="715.92" y="88" width="19.23" height="10.8" fill="#7570B3"/>
<rect x="715.92" y="97.8" width="19.23" height="8.2" fill="#6BAE2E"/>
<rect x="715.92" y="105" width="19.23" height="140.6" fill="#DCAE30"/>
<rect x="715.92" y="244.6" width="19.23" height="11.4" fill="#A77A2C"/>
<rect x="715.92" y="255" width="19.23" height="50.6" fill="#676767"/>
<rect x="715.92" y="304.6" width="19.23" height="4.7" fill="#4181BE"/>
<rect x="715.92" y="308.3" width="19.23" height="4.9" fill="#B45A2E"/>
<rect x="715.92" y="312.2" width="19.23" height="278.1" fill="#6A3A9F"/>
<rect x="715.92" y="589.3" width="19.23" height="51.2" fill="#B4E78F"/>
<rect x="737.29" y="289.1" width="19.23" height="13.2" fill="#4DAD84"/>
<rect x="737.29" y="301.3" width="19.23" height="12.7" fill="#D9601F"/>
<rect x="737.29" y="313" width="19.23" height="44.7" fill="#7570B3"/>
<rect x="737.29" y="356.7" width="19.23" height="14.1" fill="#6BAE2E"/>
<rect x="737.29" y="369.8" width="19.23" height="17.7" fill="#DCAE30"/>
<rect x="737.29" y="386.5" width="19.23" height="4.7" fill="#A77A2C"/>
<rect x="737.29" y="390.2" width="19.23" height="14.3" fill="#676767"/>
<rect x="737.29" y="403.5" width="19.23" height="30.8" fill="#4181BE"/>
<rect x="737.29" y="433.3" width="19.23" height="10.3" fill="#B45A2E"/>
<rect x="737.29" y="442.6" width="19.23" height="141.2" fill="#6A3A9F"/>
<rect x="737.29" y="582.8" width="19.23" height="57.7" fill="#B4E78F"/>
<rect x="758.66" y="247.6" width="19.23" height="1.6" fill="#4DAD84"/>
<rect x="758.66" y="248.2" width="19.23" height="12.1" fill="#D9601F"/>
<rect x="758.66" y="259.3" width="19.23" height="33.7" fill="#6BAE2E"/>
<rect x="758.66" y="292" width="19.23" height="132" fill="#DCAE30"/>
<rect x="758.66" y="423" width="19.23" height="7.3" fill="#A77A2C"/>
<rect x="758.66" y="429.3" width="19.23" height="11" fill="#676767"/>
<rect x="758.66" y="439.3" width="19.23" height="14.5" fill="#4181BE"/>
<rect x="758.66" y="452.8" width="19.23" height="11.2" fill="#B45A2E"/>
<rect x="758.66" y="463" width="19.23" height="88.2" fill="#6A3A9F"/>
<rect x="758.66" y="550.2" width="19.23" height="90.3" fill="#B4E78F"/>
<rect x="648.6" y="3.5" width="132.5" height="28.5" fill="#D9D9D9"/>
<path d="M648.6,640.5 V3.5 M781.1,640.5 V3.5" stroke="#6E6E6E" stroke-width="1.6" fill="none"/>
<path d="M647.8,3.5 H781.9" stroke="#7A7A7A" stroke-width="1.6" fill="none"/>
<path d="M647.8,32 H781.9 M647.8,640.5 H781.9" stroke="#2E2E2E" stroke-width="1.6" fill="none"/>
<text x="714.85" y="23" font-size="15" fill="#1A1A1A" stroke="#1A1A1A" text-anchor="middle">CE4</text>
<line x1="661.42" y1="640.5" x2="661.42" y2="645.3" stroke="#1E1E1E" stroke-width="1.7"/>
<text transform="translate(662.82,647.9) rotate(-90)" font-size="15" fill="#4D4D4D" stroke="#4D4D4D" text-anchor="end">CE4_522</text>
<line x1="682.79" y1="640.5" x2="682.79" y2="645.3" stroke="#1E1E1E" stroke-width="1.7"/>
<text transform="translate(684.19,647.9) rotate(-90)" font-size="15" fill="#4D4D4D" stroke="#4D4D4D" text-anchor="end">CE4_529</text>
<line x1="704.16" y1="640.5" x2="704.16" y2="645.3" stroke="#1E1E1E" stroke-width="1.7"/>
<text transform="translate(705.56,647.9) rotate(-90)" font-size="15" fill="#4D4D4D" stroke="#4D4D4D" text-anchor="end">CE4_534</text>
<line x1="725.54" y1="640.5" x2="725.54" y2="645.3" stroke="#1E1E1E" stroke-width="1.7"/>
<text transform="translate(726.94,647.9) rotate(-90)" font-size="15" fill="#4D4D4D" stroke="#4D4D4D" text-anchor="end">CE4_538</text>
<line x1="746.91" y1="640.5" x2="746.91" y2="645.3" stroke="#1E1E1E" stroke-width="1.7"/>
<text transform="translate(748.31,647.9) rotate(-90)" font-size="15" fill="#4D4D4D" stroke="#4D4D4D" text-anchor="end">CE4_545</text>
<line x1="768.28" y1="640.5" x2="768.28" y2="645.3" stroke="#1E1E1E" stroke-width="1.7"/>
<text transform="translate(769.68,647.9) rotate(-90)" font-size="15" fill="#4D4D4D" stroke="#4D4D4D" text-anchor="end">CE4_548</text>
<line x1="71.8" y1="640.65" x2="76.6" y2="640.65" stroke="#1E1E1E" stroke-width="1.7"/>
<text x="67.2" y="646.05" font-size="15" fill="#4D4D4D" stroke="#4D4D4D" text-anchor="end">0e+00</text>
<line x1="71.8" y1="511.49" x2="76.6" y2="511.49" stroke="#1E1E1E" stroke-width="1.7"/>
<text x="67.2" y="516.89" font-size="15" fill="#4D4D4D" stroke="#4D4D4D" text-anchor="end">1e+07</text>
<line x1="71.8" y1="382.33" x2="76.6" y2="382.33" stroke="#1E1E1E" stroke-width="1.7"/>
<text x="67.2" y="387.73" font-size="15" fill="#4D4D4D" stroke="#4D4D4D" text-anchor="end">2e+07</text>
<line x1="71.8" y1="253.17" x2="76.6" y2="253.17" stroke="#1E1E1E" stroke-width="1.7"/>
<text x="67.2" y="258.57" font-size="15" fill="#4D4D4D" stroke="#4D4D4D" text-anchor="end">3e+07</text>
<line x1="71.8" y1="124.01" x2="76.6" y2="124.01" stroke="#1E1E1E" stroke-width="1.7"/>
<text x="67.2" y="129.41" font-size="15" fill="#4D4D4D" stroke="#4D4D4D" text-anchor="end">4e+07</text>
<text x="428.85" y="728.6" font-size="18.75" fill="#000" stroke="#000" text-anchor="middle">Samples</text>
<text transform="translate(17,337.3) rotate(-90)" font-size="18.75" fill="#000" stroke="#000" text-anchor="middle">Read count (n)</text>
<text x="810.1" y="158.5" font-size="18.75" fill="#000" stroke="#000">Genus</text>
<rect x="811.2" y="171.8" width="27.4" height="26.8" fill="#4DAD84"/>
<text x="849.2" y="190.6" font-size="15.25" fill="#000" stroke="#000">Alistipes</text>
<rect x="811.2" y="201.7" width="27.4" height="26.8" fill="#D9601F"/>
<text x="849.2" y="220.5" font-size="15.25" fill="#000" stroke="#000">Bacteroides</text>
<rect x="811.2" y="231.6" width="27.4" height="26.8" fill="#7570B3"/>
<text x="849.2" y="250.4" font-size="15.25" fill="#000" stroke="#000">Barnesiella</text>
<rect x="811.2" y="261.5" width="27.4" height="26.8" fill="#E7369A"/>
<text x="849.2" y="280.3" font-size="15.25" fill="#000" stroke="#000">Bifidobacterium</text>
<rect x="811.2" y="291.4" width="27.4" height="26.8" fill="#6BAE2E"/>
<text x="849.2" y="310.2" font-size="15.25" fill="#000" stroke="#000">Blautia</text>
<rect x="811.2" y="321.3" width="27.4" height="26.8" fill="#DCAE30"/>
<text x="849.2" y="340.1" font-size="15.25" fill="#000" stroke="#000">Faecalibacterium</text>
<rect x="811.2" y="351.2" width="27.4" height="26.8" fill="#A77A2C"/>
<text x="849.2" y="370" font-size="15.25" fill="#000" stroke="#000">Flavonifractor</text>
<rect x="811.2" y="381.1" width="27.4" height="26.8" fill="#676767"/>
<text x="849.2" y="399.9" font-size="15.25" fill="#000" stroke="#000">Lachnoclostridium</text>
<rect x="811.2" y="411" width="27.4" height="26.8" fill="#4181BE"/>
<text x="849.2" y="429.8" font-size="15.25" fill="#000" stroke="#000">Ruminococcus</text>
<rect x="811.2" y="440.9" width="27.4" height="26.8" fill="#B45A2E"/>
<text x="849.2" y="459.7" font-size="15.25" fill="#000" stroke="#000">Subdoligranulum</text>
<rect x="811.2" y="470.8" width="27.4" height="26.8" fill="#6A3A9F"/>
<text x="849.2" y="489.6" font-size="15.25" fill="#000" stroke="#000">Other</text>
<rect x="811.2" y="500.7" width="27.4" height="26.8" fill="#B4E78F"/>
<text x="849.2" y="519.5" font-size="15.25" fill="#000" stroke="#000">Unassigned</text>
<line x1="1114.7" y1="583.54" x2="1244.6" y2="583.54" stroke="#EBEBEB" stroke-width="1.3"/>
<line x1="1114.7" y1="469.33" x2="1244.6" y2="469.33" stroke="#EBEBEB" stroke-width="1.3"/>
<line x1="1114.7" y1="355.12" x2="1244.6" y2="355.12" stroke="#EBEBEB" stroke-width="1.3"/>
<line x1="1114.7" y1="240.92" x2="1244.6" y2="240.92" stroke="#EBEBEB" stroke-width="1.3"/>
<line x1="1114.7" y1="126.71" x2="1244.6" y2="126.71" stroke="#EBEBEB" stroke-width="1.3"/>
<line x1="1114.7" y1="640.65" x2="1244.6" y2="640.65" stroke="#EBEBEB" stroke-width="1.6"/>
<line x1="1114.7" y1="526.44" x2="1244.6" y2="526.44" stroke="#EBEBEB" stroke-width="1.6"/>
<line x1="1114.7" y1="412.23" x2="1244.6" y2="412.23" stroke="#EBEBEB" stroke-width="1.6"/>
<line x1="1114.7" y1="298.02" x2="1244.6" y2="298.02" stroke="#EBEBEB" stroke-width="1.6"/>
<line x1="1114.7" y1="183.81" x2="1244.6" y2="183.81" stroke="#EBEBEB" stroke-width="1.6"/>
<line x1="1114.7" y1="69.6" x2="1244.6" y2="69.6" stroke="#EBEBEB" stroke-width="1.6"/>
<line x1="1127.27" y1="32.0" x2="1127.27" y2="640.5" stroke="#EBEBEB" stroke-width="1.7"/>
<line x1="1148.22" y1="32.0" x2="1148.22" y2="640.5" stroke="#EBEBEB" stroke-width="1.7"/>
<line x1="1169.17" y1="32.0" x2="1169.17" y2="640.5" stroke="#EBEBEB" stroke-width="1.7"/>
<line x1="1190.13" y1="32.0" x2="1190.13" y2="640.5" stroke="#EBEBEB" stroke-width="1.7"/>
<line x1="1211.08" y1="32.0" x2="1211.08" y2="640.5" stroke="#EBEBEB" stroke-width="1.7"/>
<line x1="1232.03" y1="32.0" x2="1232.03" y2="640.5" stroke="#EBEBEB" stroke-width="1.7"/>
<rect x="1117.84" y="241.7" width="18.86" height="12.6" fill="#4DAD84"/>
<rect x="1117.84" y="253.3" width="18.86" height="76" fill="#D9601F"/>
<rect x="1117.84" y="328.3" width="18.86" height="2.5" fill="#7570B3"/>
<rect x="1117.84" y="329.8" width="18.86" height="30.8" fill="#6BAE2E"/>
<rect x="1117.84" y="359.6" width="18.86" height="39" fill="#DCAE30"/>
<rect x="1117.84" y="397.6" width="18.86" height="11.4" fill="#A77A2C"/>
<rect x="1117.84" y="408" width="18.86" height="26.9" fill="#676767"/>
<rect x="1117.84" y="433.9" width="18.86" height="16.2" fill="#4181BE"/>
<rect x="1117.84" y="449.1" width="18.86" height="19.1" fill="#B45A2E"/>
<rect x="1117.84" y="467.2" width="18.86" height="132.9" fill="#6A3A9F"/>
<rect x="1117.84" y="599.1" width="18.86" height="41.4" fill="#B4E78F"/>
<rect x="1138.79" y="286.1" width="18.86" height="15.3" fill="#4DAD84"/>
<rect x="1138.79" y="300.4" width="18.86" height="3.4" fill="#D9601F"/>
<rect x="1138.79" y="302.8" width="18.86" height="41.6" fill="#7570B3"/>
<rect x="1138.79" y="343.4" width="18.86" height="26.9" fill="#6BAE2E"/>
<rect x="1138.79" y="369.3" width="18.86" height="47.8" fill="#DCAE30"/>
<rect x="1138.79" y="416.1" width="18.86" height="14" fill="#A77A2C"/>
<rect x="1138.79" y="429.1" width="18.86" height="8.6" fill="#676767"/>
<rect x="1138.79" y="436.7" width="18.86" height="14.5" fill="#4181BE"/>
<rect x="1138.79" y="450.2" width="18.86" height="8.8" fill="#B45A2E"/>
<rect x="1138.79" y="458" width="18.86" height="115.2" fill="#6A3A9F"/>
<rect x="1138.79" y="572.2" width="18.86" height="68.3" fill="#B4E78F"/>
<rect x="1159.75" y="277.2" width="18.86" height="18.8" fill="#4DAD84"/>
<rect x="1159.75" y="295" width="18.86" height="3.8" fill="#D9601F"/>
<rect x="1159.75" y="297.8" width="18.86" height="9.7" fill="#7570B3"/>
<rect x="1159.75" y="306.5" width="18.86" height="81.9" fill="#E7369A"/>
<rect x="1159.75" y="387.4" width="18.86" height="8.4" fill="#6BAE2E"/>
<rect x="1159.75" y="394.8" width="18.86" height="48.8" fill="#DCAE30"/>
<rect x="1159.75" y="442.6" width="18.86" height="14.3" fill="#A77A2C"/>
<rect x="1159.75" y="455.9" width="18.86" height="4.7" fill="#676767"/>
<rect x="1159.75" y="459.6" width="18.86" height="15.5" fill="#4181BE"/>
<rect x="1159.75" y="474.1" width="18.86" height="9.6" fill="#B45A2E"/>
<rect x="1159.75" y="482.7" width="18.86" height="111.3" fill="#6A3A9F"/>
<rect x="1159.75" y="593" width="18.86" height="47.5" fill="#B4E78F"/>
<rect x="1180.7" y="338.3" width="18.86" height="9.3" fill="#4DAD84"/>
<rect x="1180.7" y="346.6" width="18.86" height="20.5" fill="#7570B3"/>
<rect x="1180.7" y="366.1" width="18.86" height="12.5" fill="#E7369A"/>
<rect x="1180.7" y="377.6" width="18.86" height="17.3" fill="#6BAE2E"/>
<rect x="1180.7" y="393.9" width="18.86" height="40.6" fill="#DCAE30"/>
<rect x="1180.7" y="433.5" width="18.86" height="7.5" fill="#A77A2C"/>
<rect x="1180.7" y="440" width="18.86" height="8.2" fill="#676767"/>
<rect x="1180.7" y="447.2" width="18.86" height="13.4" fill="#4181BE"/>
<rect x="1180.7" y="459.6" width="18.86" height="21.6" fill="#B45A2E"/>
<rect x="1180.7" y="480.2" width="18.86" height="99.3" fill="#6A3A9F"/>
<rect x="1180.7" y="578.5" width="18.86" height="62" fill="#B4E78F"/>
<rect x="1201.65" y="181.1" width="18.86" height="6" fill="#4DAD84"/>
<rect x="1201.65" y="186.1" width="18.86" height="7.1" fill="#7570B3"/>
<rect x="1201.65" y="192.2" width="18.86" height="15.9" fill="#6BAE2E"/>
<rect x="1201.65" y="207.1" width="18.86" height="229.6" fill="#DCAE30"/>
<rect x="1201.65" y="435.7" width="18.86" height="9.2" fill="#A77A2C"/>
<rect x="1201.65" y="443.9" width="18.86" height="11.2" fill="#676767"/>
<rect x="1201.65" y="454.1" width="18.86" height="15.2" fill="#4181BE"/>
<rect x="1201.65" y="468.3" width="18.86" height="36.2" fill="#B45A2E"/>
<rect x="1201.65" y="503.5" width="18.86" height="86.6" fill="#6A3A9F"/>
<rect x="1201.65" y="589.1" width="18.86" height="51.4" fill="#B4E78F"/>
<rect x="1222.6" y="283.3" width="18.86" height="3.6" fill="#4DAD84"/>
<rect x="1222.6" y="285.9" width="18.86" height="3.6" fill="#D9601F"/>
<rect x="1222.6" y="288.5" width="18.86" height="12.5" fill="#7570B3"/>
<rect x="1222.6" y="300" width="18.86" height="8.8" fill="#E7369A"/>
<rect x="1222.6" y="307.8" width="18.86" height="17.1" fill="#6BAE2E"/>
<rect x="1222.6" y="323.9" width="18.86" height="150.1" fill="#DCAE30"/>
<rect x="1222.6" y="473" width="18.86" height="6.7" fill="#A77A2C"/>
<rect x="1222.6" y="478.7" width="18.86" height="7.2" fill="#676767"/>
<rect x="1222.6" y="484.9" width="18.86" height="13.6" fill="#4181BE"/>
<rect x="1222.6" y="497.5" width="18.86" height="5.2" fill="#B45A2E"/>
<rect x="1222.6" y="501.7" width="18.86" height="111.5" fill="#6A3A9F"/>
<rect x="1222.6" y="612.2" width="18.86" height="28.3" fill="#B4E78F"/>
<rect x="1114.7" y="3.5" width="129.9" height="28.5" fill="#D9D9D9"/>
<path d="M1114.7,640.5 V3.5 M1244.6,640.5 V3.5" stroke="#6E6E6E" stroke-width="1.6" fill="none"/>
<path d="M1113.9,3.5 H1245.4" stroke="#7A7A7A" stroke-width="1.6" fill="none"/>
<path d="M1113.9,32 H1245.4 M1113.9,640.5 H1245.4" stroke="#2E2E2E" stroke-width="1.6" fill="none"/>
<text x="1179.65" y="23" font-size="15" fill="#1A1A1A" stroke="#1A1A1A" text-anchor="middle">CG</text>
<line x1="1127.27" y1="640.5" x2="1127.27" y2="645.3" stroke="#1E1E1E" stroke-width="1.7"/>
<text transform="translate(1128.67,647.9) rotate(-90)" font-size="15" fill="#4D4D4D" stroke="#4D4D4D" text-anchor="end">CG_401</text>
<line x1="1148.22" y1="640.5" x2="1148.22" y2="645.3" stroke="#1E1E1E" stroke-width="1.7"/>
<text transform="translate(1149.62,647.9) rotate(-90)" font-size="15" fill="#4D4D4D" stroke="#4D4D4D" text-anchor="end">CG_406</text>
<line x1="1169.17" y1="640.5" x2="1169.17" y2="645.3" stroke="#1E1E1E" stroke-width="1.7"/>
<text transform="translate(1170.57,647.9) rotate(-90)" font-size="15" fill="#4D4D4D" stroke="#4D4D4D" text-anchor="end">CG_411</text>
<line x1="1190.13" y1="640.5" x2="1190.13" y2="645.3" stroke="#1E1E1E" stroke-width="1.7"/>
<text transform="translate(1191.53,647.9) rotate(-90)" font-size="15" fill="#4D4D4D" stroke="#4D4D4D" text-anchor="end">CG_420</text>
<line x1="1211.08" y1="640.5" x2="1211.08" y2="645.3" stroke="#1E1E1E" stroke-width="1.7"/>
<text transform="translate(1212.48,647.9) rotate(-90)" font-size="15" fill="#4D4D4D" stroke="#4D4D4D" text-anchor="end">CG_421</text>
<line x1="1232.03" y1="640.5" x2="1232.03" y2="645.3" stroke="#1E1E1E" stroke-width="1.7"/>
<text transform="translate(1233.43,647.9) rotate(-90)" font-size="15" fill="#4D4D4D" stroke="#4D4D4D" text-anchor="end">CG_429</text>
<line x1="1255.05" y1="583.54" x2="1384.95" y2="583.54" stroke="#EBEBEB" stroke-width="1.3"/>
<line x1="1255.05" y1="469.33" x2="1384.95" y2="469.33" stroke="#EBEBEB" stroke-width="1.3"/>
<line x1="1255.05" y1="355.12" x2="1384.95" y2="355.12" stroke="#EBEBEB" stroke-width="1.3"/>
<line x1="1255.05" y1="240.92" x2="1384.95" y2="240.92" stroke="#EBEBEB" stroke-width="1.3"/>
<line x1="1255.05" y1="126.71" x2="1384.95" y2="126.71" stroke="#EBEBEB" stroke-width="1.3"/>
<line x1="1255.05" y1="640.65" x2="1384.95" y2="640.65" stroke="#EBEBEB" stroke-width="1.6"/>
<line x1="1255.05" y1="526.44" x2="1384.95" y2="526.44" stroke="#EBEBEB" stroke-width="1.6"/>
<line x1="1255.05" y1="412.23" x2="1384.95" y2="412.23" stroke="#EBEBEB" stroke-width="1.6"/>
<line x1="1255.05" y1="298.02" x2="1384.95" y2="298.02" stroke="#EBEBEB" stroke-width="1.6"/>
<line x1="1255.05" y1="183.81" x2="1384.95" y2="183.81" stroke="#EBEBEB" stroke-width="1.6"/>
<line x1="1255.05" y1="69.6" x2="1384.95" y2="69.6" stroke="#EBEBEB" stroke-width="1.6"/>
<line x1="1267.62" y1="32.0" x2="1267.62" y2="640.5" stroke="#EBEBEB" stroke-width="1.7"/>
<line x1="1288.57" y1="32.0" x2="1288.57" y2="640.5" stroke="#EBEBEB" stroke-width="1.7"/>
<line x1="1309.52" y1="32.0" x2="1309.52" y2="640.5" stroke="#EBEBEB" stroke-width="1.7"/>
<line x1="1330.48" y1="32.0" x2="1330.48" y2="640.5" stroke="#EBEBEB" stroke-width="1.7"/>
<line x1="1351.43" y1="32.0" x2="1351.43" y2="640.5" stroke="#EBEBEB" stroke-width="1.7"/>
<line x1="1372.38" y1="32.0" x2="1372.38" y2="640.5" stroke="#EBEBEB" stroke-width="1.7"/>
<rect x="1258.19" y="258.3" width="18.86" height="11.8" fill="#4DAD84"/>
<rect x="1258.19" y="269.1" width="18.86" height="15.6" fill="#D9601F"/>
<rect x="1258.19" y="283.7" width="18.86" height="13" fill="#7570B3"/>
<rect x="1258.19" y="295.7" width="18.86" height="18.3" fill="#6BAE2E"/>
<rect x="1258.19" y="313" width="18.86" height="140.6" fill="#DCAE30"/>
<rect x="1258.19" y="452.6" width="18.86" height="5.8" fill="#A77A2C"/>
<rect x="1258.19" y="457.4" width="18.86" height="6.4" fill="#676767"/>
<rect x="1258.19" y="462.8" width="18.86" height="8.6" fill="#4181BE"/>
<rect x="1258.19" y="470.4" width="18.86" height="8.2" fill="#B45A2E"/>
<rect x="1258.19" y="477.6" width="18.86" height="103.8" fill="#6A3A9F"/>
<rect x="1258.19" y="580.4" width="18.86" height="60.1" fill="#B4E78F"/>
<rect x="1279.14" y="71.3" width="18.86" height="4.5" fill="#4DAD84"/>
<rect x="1279.14" y="74.8" width="18.86" height="7.3" fill="#6BAE2E"/>
<rect x="1279.14" y="81.1" width="18.86" height="347.9" fill="#DCAE30"/>
<rect x="1279.14" y="428" width="18.86" height="5.4" fill="#A77A2C"/>
<rect x="1279.14" y="432.4" width="18.86" height="6.4" fill="#676767"/>
<rect x="1279.14" y="437.8" width="18.86" height="9.7" fill="#4181BE"/>
<rect x="1279.14" y="446.5" width="18.86" height="54.1" fill="#B45A2E"/>
<rect x="1279.14" y="499.6" width="18.86" height="76.6" fill="#6A3A9F"/>
<rect x="1279.14" y="575.2" width="18.86" height="65.3" fill="#B4E78F"/>
<rect x="1300.1" y="233.3" width="18.86" height="2.9" fill="#4DAD84"/>
<rect x="1300.1" y="235.2" width="18.86" height="16.2" fill="#7570B3"/>
<rect x="1300.1" y="250.4" width="18.86" height="127.1" fill="#E7369A"/>
<rect x="1300.1" y="376.5" width="18.86" height="4.7" fill="#6BAE2E"/>
<rect x="1300.1" y="380.2" width="18.86" height="64.7" fill="#DCAE30"/>
<rect x="1300.1" y="443.9" width="18.86" height="8.4" fill="#A77A2C"/>
<rect x="1300.1" y="451.3" width="18.86" height="4.5" fill="#676767"/>
<rect x="1300.1" y="454.8" width="18.86" height="6.9" fill="#4181BE"/>
<rect x="1300.1" y="460.7" width="18.86" height="11.4" fill="#B45A2E"/>
<rect x="1300.1" y="471.1" width="18.86" height="74.2" fill="#6A3A9F"/>
<rect x="1300.1" y="544.3" width="18.86" height="96.2" fill="#B4E78F"/>
<rect x="1321.05" y="127" width="18.86" height="18.3" fill="#4DAD84"/>
<rect x="1321.05" y="144.3" width="18.86" height="98.7" fill="#D9601F"/>
<rect x="1321.05" y="242" width="18.86" height="8.6" fill="#7570B3"/>
<rect x="1321.05" y="249.6" width="18.86" height="29.7" fill="#E7369A"/>
<rect x="1321.05" y="278.3" width="18.86" height="8.6" fill="#6BAE2E"/>
<rect x="1321.05" y="285.9" width="18.86" height="143.1" fill="#DCAE30"/>
<rect x="1321.05" y="428" width="18.86" height="8" fill="#A77A2C"/>
<rect x="1321.05" y="435" width="18.86" height="8.8" fill="#676767"/>
<rect x="1321.05" y="442.8" width="18.86" height="11.2" fill="#4181BE"/>
<rect x="1321.05" y="453" width="18.86" height="23.2" fill="#B45A2E"/>
<rect x="1321.05" y="475.2" width="18.86" height="95.6" fill="#6A3A9F"/>
<rect x="1321.05" y="569.8" width="18.86" height="70.7" fill="#B4E78F"/>
<rect x="1342" y="228.3" width="18.86" height="2.5" fill="#4DAD84"/>
<rect x="1342" y="229.8" width="18.86" height="7.5" fill="#7570B3"/>
<rect x="1342" y="236.3" width="18.86" height="9.3" fill="#6BAE2E"/>
<rect x="1342" y="244.6" width="18.86" height="209.4" fill="#DCAE30"/>
<rect x="1342" y="453" width="18.86" height="4.7" fill="#A77A2C"/>
<rect x="1342" y="456.7" width="18.86" height="6.7" fill="#676767"/>
<rect x="1342" y="462.4" width="18.86" height="12.9" fill="#4181BE"/>
<rect x="1342" y="474.3" width="18.86" height="8.2" fill="#B45A2E"/>
<rect x="1342" y="481.5" width="18.86" height="65.4" fill="#6A3A9F"/>
<rect x="1342" y="545.9" width="18.86" height="94.6" fill="#B4E78F"/>
<rect x="1362.95" y="178.5" width="18.86" height="2.7" fill="#4DAD84"/>
<rect x="1362.95" y="180.2" width="18.86" height="7.3" fill="#7570B3"/>
<rect x="1362.95" y="186.5" width="18.86" height="43.8" fill="#E7369A"/>
<rect x="1362.95" y="229.3" width="18.86" height="4.3" fill="#6BAE2E"/>
<rect x="1362.95" y="232.6" width="18.86" height="244.9" fill="#DCAE30"/>
<rect x="1362.95" y="476.5" width="18.86" height="5.8" fill="#A77A2C"/>
<rect x="1362.95" y="481.3" width="18.86" height="13.6" fill="#676767"/>
<rect x="1362.95" y="493.9" width="18.86" height="4.6" fill="#4181BE"/>
<rect x="1362.95" y="497.5" width="18.86" height="9.2" fill="#B45A2E"/>
<rect x="1362.95" y="505.7" width="18.86" height="64" fill="#6A3A9F"/>
<rect x="1362.95" y="568.7" width="18.86" height="71.8" fill="#B4E78F"/>
<rect x="1255.05" y="3.5" width="129.9" height="28.5" fill="#D9D9D9"/>
<path d="M1255.05,640.5 V3.5 M1384.95,640.5 V3.5" stroke="#6E6E6E" stroke-width="1.6" fill="none"/>
<path d="M1254.25,3.5 H1385.75" stroke="#7A7A7A" stroke-width="1.6" fill="none"/>
<path d="M1254.25,32 H1385.75 M1254.25,640.5 H1385.75" stroke="#2E2E2E" stroke-width="1.6" fill="none"/>
<text x="1320" y="23" font-size="15" fill="#1A1A1A" stroke="#1A1A1A" text-anchor="middle">IN1</text>
<line x1="1267.62" y1="640.5" x2="1267.62" y2="645.3" stroke="#1E1E1E" stroke-width="1.7"/>
<text transform="translate(1269.02,647.9) rotate(-90)" font-size="15" fill="#4D4D4D" stroke="#4D4D4D" text-anchor="end">IN1_431</text>
<line x1="1288.57" y1="640.5" x2="1288.57" y2="645.3" stroke="#1E1E1E" stroke-width="1.7"/>
<text transform="translate(1289.97,647.9) rotate(-90)" font-size="15" fill="#4D4D4D" stroke="#4D4D4D" text-anchor="end">IN1_438</text>
<line x1="1309.52" y1="640.5" x2="1309.52" y2="645.3" stroke="#1E1E1E" stroke-width="1.7"/>
<text transform="translate(1310.92,647.9) rotate(-90)" font-size="15" fill="#4D4D4D" stroke="#4D4D4D" text-anchor="end">IN1_443</text>
<line x1="1330.48" y1="640.5" x2="1330.48" y2="645.3" stroke="#1E1E1E" stroke-width="1.7"/>
<text transform="translate(1331.88,647.9) rotate(-90)" font-size="15" fill="#4D4D4D" stroke="#4D4D4D" text-anchor="end">IN1_449</text>
<line x1="1351.43" y1="640.5" x2="1351.43" y2="645.3" stroke="#1E1E1E" stroke-width="1.7"/>
<text transform="translate(1352.83,647.9) rotate(-90)" font-size="15" fill="#4D4D4D" stroke="#4D4D4D" text-anchor="end">IN1_452</text>
<line x1="1372.38" y1="640.5" x2="1372.38" y2="645.3" stroke="#1E1E1E" stroke-width="1.7"/>
<text transform="translate(1373.78,647.9) rotate(-90)" font-size="15" fill="#4D4D4D" stroke="#4D4D4D" text-anchor="end">IN1_459</text>
<line x1="1395.4" y1="583.54" x2="1525.3" y2="583.54" stroke="#EBEBEB" stroke-width="1.3"/>
<line x1="1395.4" y1="469.33" x2="1525.3" y2="469.33" stroke="#EBEBEB" stroke-width="1.3"/>
<line x1="1395.4" y1="355.12" x2="1525.3" y2="355.12" stroke="#EBEBEB" stroke-width="1.3"/>
<line x1="1395.4" y1="240.92" x2="1525.3" y2="240.92" stroke="#EBEBEB" stroke-width="1.3"/>
<line x1="1395.4" y1="126.71" x2="1525.3" y2="126.71" stroke="#EBEBEB" stroke-width="1.3"/>
<line x1="1395.4" y1="640.65" x2="1525.3" y2="640.65" stroke="#EBEBEB" stroke-width="1.6"/>
<line x1="1395.4" y1="526.44" x2="1525.3" y2="526.44" stroke="#EBEBEB" stroke-width="1.6"/>
<line x1="1395.4" y1="412.23" x2="1525.3" y2="412.23" stroke="#EBEBEB" stroke-width="1.6"/>
<line x1="1395.4" y1="298.02" x2="1525.3" y2="298.02" stroke="#EBEBEB" stroke-width="1.6"/>
<line x1="1395.4" y1="183.81" x2="1525.3" y2="183.81" stroke="#EBEBEB" stroke-width="1.6"/>
<line x1="1395.4" y1="69.6" x2="1525.3" y2="69.6" stroke="#EBEBEB" stroke-width="1.6"/>
<line x1="1407.97" y1="32.0" x2="1407.97" y2="640.5" stroke="#EBEBEB" stroke-width="1.7"/>
<line x1="1428.92" y1="32.0" x2="1428.92" y2="640.5" stroke="#EBEBEB" stroke-width="1.7"/>
<line x1="1449.87" y1="32.0" x2="1449.87" y2="640.5" stroke="#EBEBEB" stroke-width="1.7"/>
<line x1="1470.83" y1="32.0" x2="1470.83" y2="640.5" stroke="#EBEBEB" stroke-width="1.7"/>
<line x1="1491.78" y1="32.0" x2="1491.78" y2="640.5" stroke="#EBEBEB" stroke-width="1.7"/>
<line x1="1512.73" y1="32.0" x2="1512.73" y2="640.5" stroke="#EBEBEB" stroke-width="1.7"/>
<rect x="1398.54" y="155.2" width="18.86" height="7.1" fill="#4DAD84"/>
<rect x="1398.54" y="161.3" width="18.86" height="3.8" fill="#7570B3"/>
<rect x="1398.54" y="164.1" width="18.86" height="19.9" fill="#6BAE2E"/>
<rect x="1398.54" y="183" width="18.86" height="141.7" fill="#DCAE30"/>
<rect x="1398.54" y="323.7" width="18.86" height="7.1" fill="#A77A2C"/>
<rect x="1398.54" y="329.8" width="18.86" height="7.5" fill="#676767"/>
<rect x="1398.54" y="336.3" width="18.86" height="14.5" fill="#4181BE"/>
<rect x="1398.54" y="349.8" width="18.86" height="111.6" fill="#B45A2E"/>
<rect x="1398.54" y="460.4" width="18.86" height="133.6" fill="#6A3A9F"/>
<rect x="1398.54" y="593" width="18.86" height="47.5" fill="#B4E78F"/>
<rect x="1419.49" y="341.7" width="18.86" height="5" fill="#4DAD84"/>
<rect x="1419.49" y="345.7" width="18.86" height="19.9" fill="#7570B3"/>
<rect x="1419.49" y="364.6" width="18.86" height="13.6" fill="#6BAE2E"/>
<rect x="1419.49" y="377.2" width="18.86" height="30.8" fill="#DCAE30"/>
<rect x="1419.49" y="407" width="18.86" height="8.4" fill="#A77A2C"/>
<rect x="1419.49" y="414.4" width="18.86" height="17.9" fill="#676767"/>
<rect x="1419.49" y="431.3" width="18.86" height="11.9" fill="#4181BE"/>
<rect x="1419.49" y="442.2" width="18.86" height="25.3" fill="#B45A2E"/>
<rect x="1419.49" y="466.5" width="18.86" height="105.8" fill="#6A3A9F"/>
<rect x="1419.49" y="571.3" width="18.86" height="69.2" fill="#B4E78F"/>
<rect x="1440.45" y="130.9" width="18.86" height="3.1" fill="#4DAD84"/>
<rect x="1440.45" y="133" width="18.86" height="9.7" fill="#6BAE2E"/>
<rect x="1440.45" y="141.7" width="18.86" height="367.1" fill="#DCAE30"/>
<rect x="1440.45" y="507.8" width="18.86" height="4.3" fill="#A77A2C"/>
<rect x="1440.45" y="511.1" width="18.86" height="3.2" fill="#676767"/>
<rect x="1440.45" y="513.3" width="18.86" height="4.2" fill="#4181BE"/>
<rect x="1440.45" y="516.5" width="18.86" height="7" fill="#B45A2E"/>
<rect x="1440.45" y="522.5" width="18.86" height="54.6" fill="#6A3A9F"/>
<rect x="1440.45" y="576.1" width="18.86" height="64.4" fill="#B4E78F"/>
<rect x="1461.4" y="181.3" width="18.86" height="7.1" fill="#4DAD84"/>
<rect x="1461.4" y="187.4" width="18.86" height="26" fill="#D9601F"/>
<rect x="1461.4" y="212.4" width="18.86" height="4.3" fill="#7570B3"/>
<rect x="1461.4" y="215.7" width="18.86" height="33.6" fill="#E7369A"/>
<rect x="1461.4" y="248.3" width="18.86" height="15.1" fill="#6BAE2E"/>
<rect x="1461.4" y="262.4" width="18.86" height="30.3" fill="#DCAE30"/>
<rect x="1461.4" y="291.7" width="18.86" height="7.6" fill="#A77A2C"/>
<rect x="1461.4" y="298.3" width="18.86" height="10.7" fill="#676767"/>
<rect x="1461.4" y="308" width="18.86" height="34.3" fill="#4181BE"/>
<rect x="1461.4" y="341.3" width="18.86" height="66.2" fill="#B45A2E"/>
<rect x="1461.4" y="406.5" width="18.86" height="199.5" fill="#6A3A9F"/>
<rect x="1461.4" y="605" width="18.86" height="35.5" fill="#B4E78F"/>
<rect x="1482.35" y="204.8" width="18.86" height="4.9" fill="#4DAD84"/>
<rect x="1482.35" y="208.7" width="18.86" height="10.1" fill="#7570B3"/>
<rect x="1482.35" y="217.8" width="18.86" height="4.7" fill="#E7369A"/>
<rect x="1482.35" y="221.5" width="18.86" height="18.4" fill="#6BAE2E"/>
<rect x="1482.35" y="238.9" width="18.86" height="202.5" fill="#DCAE30"/>
<rect x="1482.35" y="440.4" width="18.86" height="4.3" fill="#A77A2C"/>
<rect x="1482.35" y="443.7" width="18.86" height="3.6" fill="#676767"/>
<rect x="1482.35" y="446.3" width="18.86" height="7.1" fill="#4181BE"/>
<rect x="1482.35" y="452.4" width="18.86" height="31.9" fill="#B45A2E"/>
<rect x="1482.35" y="483.3" width="18.86" height="76.6" fill="#6A3A9F"/>
<rect x="1482.35" y="558.9" width="18.86" height="81.6" fill="#B4E78F"/>
<rect x="1503.3" y="217.8" width="18.86" height="2.2" fill="#4DAD84"/>
<rect x="1503.3" y="219" width="18.86" height="2" fill="#D9601F"/>
<rect x="1503.3" y="220" width="18.86" height="3.2" fill="#7570B3"/>
<rect x="1503.3" y="222.2" width="18.86" height="38.4" fill="#E7369A"/>
<rect x="1503.3" y="259.6" width="18.86" height="20.7" fill="#6BAE2E"/>
<rect x="1503.3" y="279.3" width="18.86" height="128.2" fill="#DCAE30"/>
<rect x="1503.3" y="406.5" width="18.86" height="5.4" fill="#A77A2C"/>
<rect x="1503.3" y="410.9" width="18.86" height="6.3" fill="#676767"/>
<rect x="1503.3" y="416.2" width="18.86" height="5.8" fill="#4181BE"/>
<rect x="1503.3" y="421" width="18.86" height="58" fill="#B45A2E"/>
<rect x="1503.3" y="478" width="18.86" height="99.1" fill="#6A3A9F"/>
<rect x="1503.3" y="576.1" width="18.86" height="64.4" fill="#B4E78F"/>
<rect x="1395.4" y="3.5" width="129.9" height="28.5" fill="#D9D9D9"/>
<path d="M1395.4,640.5 V3.5 M1525.3,640.5 V3.5" stroke="#6E6E6E" stroke-width="1.6" fill="none"/>
<path d="M1394.6,3.5 H1526.1" stroke="#7A7A7A" stroke-width="1.6" fill="none"/>
<path d="M1394.6,32 H1526.1 M1394.6,640.5 H1526.1" stroke="#2E2E2E" stroke-width="1.6" fill="none"/>
<text x="1460.35" y="23" font-size="15" fill="#1A1A1A" stroke="#1A1A1A" text-anchor="middle">IN4</text>
<line x1="1407.97" y1="640.5" x2="1407.97" y2="645.3" stroke="#1E1E1E" stroke-width="1.7"/>
<text transform="translate(1409.37,647.9) rotate(-90)" font-size="15" fill="#4D4D4D" stroke="#4D4D4D" text-anchor="end">IN4_464</text>
<line x1="1428.92" y1="640.5" x2="1428.92" y2="645.3" stroke="#1E1E1E" stroke-width="1.7"/>
<text transform="translate(1430.32,647.9) rotate(-90)" font-size="15" fill="#4D4D4D" stroke="#4D4D4D" text-anchor="end">IN4_466</text>
<line x1="1449.87" y1="640.5" x2="1449.87" y2="645.3" stroke="#1E1E1E" stroke-width="1.7"/>
<text transform="translate(1451.27,647.9) rotate(-90)" font-size="15" fill="#4D4D4D" stroke="#4D4D4D" text-anchor="end">IN4_474</text>
<line x1="1470.83" y1="640.5" x2="1470.83" y2="645.3" stroke="#1E1E1E" stroke-width="1.7"/>
<text transform="translate(1472.23,647.9) rotate(-90)" font-size="15" fill="#4D4D4D" stroke="#4D4D4D" text-anchor="end">IN4_476</text>
<line x1="1491.78" y1="640.5" x2="1491.78" y2="645.3" stroke="#1E1E1E" stroke-width="1.7"/>
<text transform="translate(1493.18,647.9) rotate(-90)" font-size="15" fill="#4D4D4D" stroke="#4D4D4D" text-anchor="end">IN4_481</text>
<line x1="1512.73" y1="640.5" x2="1512.73" y2="645.3" stroke="#1E1E1E" stroke-width="1.7"/>
<text transform="translate(1514.13,647.9) rotate(-90)" font-size="15" fill="#4D4D4D" stroke="#4D4D4D" text-anchor="end">IN4_488</text>
<line x1="1535.75" y1="583.54" x2="1665.65" y2="583.54" stroke="#EBEBEB" stroke-width="1.3"/>
<line x1="1535.75" y1="469.33" x2="1665.65" y2="469.33" stroke="#EBEBEB" stroke-width="1.3"/>
<line x1="1535.75" y1="355.12" x2="1665.65" y2="355.12" stroke="#EBEBEB" stroke-width="1.3"/>
<line x1="1535.75" y1="240.92" x2="1665.65" y2="240.92" stroke="#EBEBEB" stroke-width="1.3"/>
<line x1="1535.75" y1="126.71" x2="1665.65" y2="126.71" stroke="#EBEBEB" stroke-width="1.3"/>
<line x1="1535.75" y1="640.65" x2="1665.65" y2="640.65" stroke="#EBEBEB" stroke-width="1.6"/>
<line x1="1535.75" y1="526.44" x2="1665.65" y2="526.44" stroke="#EBEBEB" stroke-width="1.6"/>
<line x1="1535.75" y1="412.23" x2="1665.65" y2="412.23" stroke="#EBEBEB" stroke-width="1.6"/>
<line x1="1535.75" y1="298.02" x2="1665.65" y2="298.02" stroke="#EBEBEB" stroke-width="1.6"/>
<line x1="1535.75" y1="183.81" x2="1665.65" y2="183.81" stroke="#EBEBEB" stroke-width="1.6"/>
<line x1="1535.75" y1="69.6" x2="1665.65" y2="69.6" stroke="#EBEBEB" stroke-width="1.6"/>
<line x1="1548.32" y1="32.0" x2="1548.32" y2="640.5" stroke="#EBEBEB" stroke-width="1.7"/>
<line x1="1569.27" y1="32.0" x2="1569.27" y2="640.5" stroke="#EBEBEB" stroke-width="1.7"/>
<line x1="1590.22" y1="32.0" x2="1590.22" y2="640.5" stroke="#EBEBEB" stroke-width="1.7"/>
<line x1="1611.18" y1="32.0" x2="1611.18" y2="640.5" stroke="#EBEBEB" stroke-width="1.7"/>
<line x1="1632.13" y1="32.0" x2="1632.13" y2="640.5" stroke="#EBEBEB" stroke-width="1.7"/>
<line x1="1653.08" y1="32.0" x2="1653.08" y2="640.5" stroke="#EBEBEB" stroke-width="1.7"/>
<rect x="1538.89" y="299.3" width="18.86" height="7.6" fill="#4DAD84"/>
<rect x="1538.89" y="305.9" width="18.86" height="2.1" fill="#D9601F"/>
<rect x="1538.89" y="307" width="18.86" height="5.7" fill="#7570B3"/>
<rect x="1538.89" y="311.7" width="18.86" height="16.9" fill="#E7369A"/>
<rect x="1538.89" y="327.6" width="18.86" height="32.5" fill="#6BAE2E"/>
<rect x="1538.89" y="359.1" width="18.86" height="43.9" fill="#DCAE30"/>
<rect x="1538.89" y="402" width="18.86" height="10.9" fill="#A77A2C"/>
<rect x="1538.89" y="411.9" width="18.86" height="10.3" fill="#676767"/>
<rect x="1538.89" y="421.2" width="18.86" height="15.5" fill="#4181BE"/>
<rect x="1538.89" y="435.7" width="18.86" height="71.5" fill="#B45A2E"/>
<rect x="1538.89" y="506.2" width="18.86" height="103.7" fill="#6A3A9F"/>
<rect x="1538.89" y="608.9" width="18.86" height="31.6" fill="#B4E78F"/>
<rect x="1559.84" y="305.9" width="18.86" height="13.4" fill="#4DAD84"/>
<rect x="1559.84" y="318.3" width="18.86" height="74.9" fill="#D9601F"/>
<rect x="1559.84" y="392.2" width="18.86" height="4.9" fill="#7570B3"/>
<rect x="1559.84" y="396.1" width="18.86" height="52.9" fill="#E7369A"/>
<rect x="1559.84" y="448" width="18.86" height="15.6" fill="#6BAE2E"/>
<rect x="1559.84" y="462.6" width="18.86" height="22.3" fill="#DCAE30"/>
<rect x="1559.84" y="483.9" width="18.86" height="8.5" fill="#A77A2C"/>
<rect x="1559.84" y="491.4" width="18.86" height="12.5" fill="#676767"/>
<rect x="1559.84" y="502.9" width="18.86" height="11.4" fill="#4181BE"/>
<rect x="1559.84" y="513.3" width="18.86" height="9.1" fill="#B45A2E"/>
<rect x="1559.84" y="521.4" width="18.86" height="86.1" fill="#6A3A9F"/>
<rect x="1559.84" y="606.5" width="18.86" height="34" fill="#B4E78F"/>
<rect x="1580.8" y="265.2" width="18.86" height="25.4" fill="#4DAD84"/>
<rect x="1580.8" y="289.6" width="18.86" height="7.5" fill="#7570B3"/>
<rect x="1580.8" y="296.1" width="18.86" height="15.1" fill="#6BAE2E"/>
<rect x="1580.8" y="310.2" width="18.86" height="26.5" fill="#DCAE30"/>
<rect x="1580.8" y="335.7" width="18.86" height="9.6" fill="#A77A2C"/>
<rect x="1580.8" y="344.3" width="18.86" height="9.3" fill="#676767"/>
<rect x="1580.8" y="352.6" width="18.86" height="33.6" fill="#4181BE"/>
<rect x="1580.8" y="385.2" width="18.86" height="10.1" fill="#B45A2E"/>
<rect x="1580.8" y="394.3" width="18.86" height="157.2" fill="#6A3A9F"/>
<rect x="1580.8" y="550.5" width="18.86" height="90" fill="#B4E78F"/>
<rect x="1601.75" y="336.3" width="18.86" height="13.4" fill="#4DAD84"/>
<rect x="1601.75" y="348.7" width="18.86" height="20.6" fill="#D9601F"/>
<rect x="1601.75" y="368.3" width="18.86" height="14" fill="#7570B3"/>
<rect x="1601.75" y="381.3" width="18.86" height="50.4" fill="#E7369A"/>
<rect x="1601.75" y="430.7" width="18.86" height="6" fill="#6BAE2E"/>
<rect x="1601.75" y="435.7" width="18.86" height="23.1" fill="#DCAE30"/>
<rect x="1601.75" y="457.8" width="18.86" height="14.7" fill="#A77A2C"/>
<rect x="1601.75" y="471.5" width="18.86" height="5.8" fill="#676767"/>
<rect x="1601.75" y="476.3" width="18.86" height="14.5" fill="#4181BE"/>
<rect x="1601.75" y="489.8" width="18.86" height="12" fill="#B45A2E"/>
<rect x="1601.75" y="500.8" width="18.86" height="74.3" fill="#6A3A9F"/>
<rect x="1601.75" y="574.1" width="18.86" height="66.4" fill="#B4E78F"/>
<rect x="1622.7" y="365.7" width="18.86" height="3.6" fill="#4DAD84"/>
<rect x="1622.7" y="368.3" width="18.86" height="31.6" fill="#D9601F"/>
<rect x="1622.7" y="398.9" width="18.86" height="4.3" fill="#7570B3"/>
<rect x="1622.7" y="402.2" width="18.86" height="23" fill="#E7369A"/>
<rect x="1622.7" y="424.2" width="18.86" height="6.4" fill="#6BAE2E"/>
<rect x="1622.7" y="429.6" width="18.86" height="26.6" fill="#DCAE30"/>
<rect x="1622.7" y="455.2" width="18.86" height="5.4" fill="#A77A2C"/>
<rect x="1622.7" y="459.6" width="18.86" height="4.7" fill="#676767"/>
<rect x="1622.7" y="463.3" width="18.86" height="14" fill="#4181BE"/>
<rect x="1622.7" y="476.3" width="18.86" height="16.8" fill="#B45A2E"/>
<rect x="1622.7" y="492.1" width="18.86" height="82.8" fill="#6A3A9F"/>
<rect x="1622.7" y="573.9" width="18.86" height="66.6" fill="#B4E78F"/>
<rect x="1643.65" y="347.8" width="18.86" height="5.2" fill="#4DAD84"/>
<rect x="1643.65" y="352" width="18.86" height="13.1" fill="#D9601F"/>
<rect x="1643.65" y="364.1" width="18.86" height="11.9" fill="#7570B3"/>
<rect x="1643.65" y="375" width="18.86" height="15.6" fill="#E7369A"/>
<rect x="1643.65" y="389.6" width="18.86" height="17.9" fill="#6BAE2E"/>
<rect x="1643.65" y="406.5" width="18.86" height="84.4" fill="#DCAE30"/>
<rect x="1643.65" y="489.9" width="18.86" height="6.9" fill="#A77A2C"/>
<rect x="1643.65" y="495.8" width="18.86" height="6.4" fill="#676767"/>
<rect x="1643.65" y="501.2" width="18.86" height="17.3" fill="#4181BE"/>
<rect x="1643.65" y="517.5" width="18.86" height="8.7" fill="#B45A2E"/>
<rect x="1643.65" y="525.2" width="18.86" height="83.4" fill="#6A3A9F"/>
<rect x="1643.65" y="607.6" width="18.86" height="32.9" fill="#B4E78F"/>
<rect x="1535.75" y="3.5" width="129.9" height="28.5" fill="#D9D9D9"/>
<path d="M1535.75,640.5 V3.5 M1665.65,640.5 V3.5" stroke="#6E6E6E" stroke-width="1.6" fill="none"/>
<path d="M1534.95,3.5 H1666.45" stroke="#7A7A7A" stroke-width="1.6" fill="none"/>
<path d="M1534.95,32 H1666.45 M1534.95,640.5 H1666.45" stroke="#2E2E2E" stroke-width="1.6" fill="none"/>
<text x="1600.7" y="23" font-size="15" fill="#1A1A1A" stroke="#1A1A1A" text-anchor="middle">CE1</text>
<line x1="1548.32" y1="640.5" x2="1548.32" y2="645.3" stroke="#1E1E1E" stroke-width="1.7"/>
<text transform="translate(1549.72,647.9) rotate(-90)" font-size="15" fill="#4D4D4D" stroke="#4D4D4D" text-anchor="end">CE1_495</text>
<line x1="1569.27" y1="640.5" x2="1569.27" y2="645.3" stroke="#1E1E1E" stroke-width="1.7"/>
<text transform="translate(1570.67,647.9) rotate(-90)" font-size="15" fill="#4D4D4D" stroke="#4D4D4D" text-anchor="end">CE1_499</text>
<line x1="1590.22" y1="640.5" x2="1590.22" y2="645.3" stroke="#1E1E1E" stroke-width="1.7"/>
<text transform="translate(1591.62,647.9) rotate(-90)" font-size="15" fill="#4D4D4D" stroke="#4D4D4D" text-anchor="end">CE1_503</text>
<line x1="1611.18" y1="640.5" x2="1611.18" y2="645.3" stroke="#1E1E1E" stroke-width="1.7"/>
<text transform="translate(1612.58,647.9) rotate(-90)" font-size="15" fill="#4D4D4D" stroke="#4D4D4D" text-anchor="end">CE1_508</text>
<line x1="1632.13" y1="640.5" x2="1632.13" y2="645.3" stroke="#1E1E1E" stroke-width="1.7"/>
<text transform="translate(1633.53,647.9) rotate(-90)" font-size="15" fill="#4D4D4D" stroke="#4D4D4D" text-anchor="end">CE1_513</text>
<line x1="1653.08" y1="640.5" x2="1653.08" y2="645.3" stroke="#1E1E1E" stroke-width="1.7"/>
<text transform="translate(1654.48,647.9) rotate(-90)" font-size="15" fill="#4D4D4D" stroke="#4D4D4D" text-anchor="end">CE1_520</text>
<line x1="1676.1" y1="583.54" x2="1806" y2="583.54" stroke="#EBEBEB" stroke-width="1.3"/>
<line x1="1676.1" y1="469.33" x2="1806" y2="469.33" stroke="#EBEBEB" stroke-width="1.3"/>
<line x1="1676.1" y1="355.12" x2="1806" y2="355.12" stroke="#EBEBEB" stroke-width="1.3"/>
<line x1="1676.1" y1="240.92" x2="1806" y2="240.92" stroke="#EBEBEB" stroke-width="1.3"/>
<line x1="1676.1" y1="126.71" x2="1806" y2="126.71" stroke="#EBEBEB" stroke-width="1.3"/>
<line x1="1676.1" y1="640.65" x2="1806" y2="640.65" stroke="#EBEBEB" stroke-width="1.6"/>
<line x1="1676.1" y1="526.44" x2="1806" y2="526.44" stroke="#EBEBEB" stroke-width="1.6"/>
<line x1="1676.1" y1="412.23" x2="1806" y2="412.23" stroke="#EBEBEB" stroke-width="1.6"/>
<line x1="1676.1" y1="298.02" x2="1806" y2="298.02" stroke="#EBEBEB" stroke-width="1.6"/>
<line x1="1676.1" y1="183.81" x2="1806" y2="183.81" stroke="#EBEBEB" stroke-width="1.6"/>
<line x1="1676.1" y1="69.6" x2="1806" y2="69.6" stroke="#EBEBEB" stroke-width="1.6"/>
<line x1="1688.67" y1="32.0" x2="1688.67" y2="640.5" stroke="#EBEBEB" stroke-width="1.7"/>
<line x1="1709.62" y1="32.0" x2="1709.62" y2="640.5" stroke="#EBEBEB" stroke-width="1.7"/>
<line x1="1730.57" y1="32.0" x2="1730.57" y2="640.5" stroke="#EBEBEB" stroke-width="1.7"/>
<line x1="1751.53" y1="32.0" x2="1751.53" y2="640.5" stroke="#EBEBEB" stroke-width="1.7"/>
<line x1="1772.48" y1="32.0" x2="1772.48" y2="640.5" stroke="#EBEBEB" stroke-width="1.7"/>
<line x1="1793.43" y1="32.0" x2="1793.43" y2="640.5" stroke="#EBEBEB" stroke-width="1.7"/>
<rect x="1679.24" y="145.4" width="18.86" height="7.1" fill="#4DAD84"/>
<rect x="1679.24" y="151.5" width="18.86" height="3.6" fill="#D9601F"/>
<rect x="1679.24" y="154.1" width="18.86" height="8.6" fill="#7570B3"/>
<rect x="1679.24" y="161.7" width="18.86" height="118.9" fill="#E7369A"/>
<rect x="1679.24" y="279.6" width="18.86" height="13.4" fill="#6BAE2E"/>
<rect x="1679.24" y="292" width="18.86" height="222.7" fill="#DCAE30"/>
<rect x="1679.24" y="513.7" width="18.86" height="5.3" fill="#A77A2C"/>
<rect x="1679.24" y="518" width="18.86" height="5.8" fill="#676767"/>
<rect x="1679.24" y="522.8" width="18.86" height="6.5" fill="#4181BE"/>
<rect x="1679.24" y="528.3" width="18.86" height="11.8" fill="#B45A2E"/>
<rect x="1679.24" y="539.1" width="18.86" height="64.1" fill="#6A3A9F"/>
<rect x="1679.24" y="602.2" width="18.86" height="38.3" fill="#B4E78F"/>
<rect x="1700.19" y="287.2" width="18.86" height="13.4" fill="#4DAD84"/>
<rect x="1700.19" y="299.6" width="18.86" height="4.9" fill="#D9601F"/>
<rect x="1700.19" y="303.5" width="18.86" height="8.6" fill="#7570B3"/>
<rect x="1700.19" y="311.1" width="18.86" height="10.6" fill="#E7369A"/>
<rect x="1700.19" y="320.7" width="18.86" height="8.8" fill="#6BAE2E"/>
<rect x="1700.19" y="328.5" width="18.86" height="111.2" fill="#DCAE30"/>
<rect x="1700.19" y="438.7" width="18.86" height="7.5" fill="#A77A2C"/>
<rect x="1700.19" y="445.2" width="18.86" height="8.2" fill="#676767"/>
<rect x="1700.19" y="452.4" width="18.86" height="16" fill="#4181BE"/>
<rect x="1700.19" y="467.4" width="18.86" height="12.1" fill="#B45A2E"/>
<rect x="1700.19" y="478.5" width="18.86" height="129.7" fill="#6A3A9F"/>
<rect x="1700.19" y="607.2" width="18.86" height="33.3" fill="#B4E78F"/>
<rect x="1721.15" y="307.2" width="18.86" height="3.6" fill="#4DAD84"/>
<rect x="1721.15" y="309.8" width="18.86" height="21.2" fill="#D9601F"/>
<rect x="1721.15" y="330" width="18.86" height="11.9" fill="#7570B3"/>
<rect x="1721.15" y="340.9" width="18.86" height="27.5" fill="#E7369A"/>
<rect x="1721.15" y="367.4" width="18.86" height="4.5" fill="#6BAE2E"/>
<rect x="1721.15" y="370.9" width="18.86" height="72.5" fill="#DCAE30"/>
<rect x="1721.15" y="442.4" width="18.86" height="6" fill="#A77A2C"/>
<rect x="1721.15" y="447.4" width="18.86" height="4.3" fill="#676767"/>
<rect x="1721.15" y="450.7" width="18.86" height="11.8" fill="#4181BE"/>
<rect x="1721.15" y="461.5" width="18.86" height="13" fill="#B45A2E"/>
<rect x="1721.15" y="473.5" width="18.86" height="89" fill="#6A3A9F"/>
<rect x="1721.15" y="561.5" width="18.86" height="79" fill="#B4E78F"/>
<rect x="1742.1" y="32.3" width="18.86" height="3.7" fill="#4DAD84"/>
<rect x="1742.1" y="35" width="18.86" height="11" fill="#D9601F"/>
<rect x="1742.1" y="45" width="18.86" height="2.3" fill="#7570B3"/>
<rect x="1742.1" y="46.3" width="18.86" height="2.3" fill="#E7369A"/>
<rect x="1742.1" y="47.6" width="18.86" height="3.6" fill="#6BAE2E"/>
<rect x="1742.1" y="50.2" width="18.86" height="335.6" fill="#DCAE30"/>
<rect x="1742.1" y="384.8" width="18.86" height="4.9" fill="#A77A2C"/>
<rect x="1742.1" y="388.7" width="18.86" height="18" fill="#676767"/>
<rect x="1742.1" y="405.7" width="18.86" height="2.9" fill="#4181BE"/>
<rect x="1742.1" y="407.6" width="18.86" height="5.4" fill="#B45A2E"/>
<rect x="1742.1" y="412" width="18.86" height="187.9" fill="#6A3A9F"/>
<rect x="1742.1" y="598.9" width="18.86" height="41.6" fill="#B4E78F"/>
<rect x="1763.05" y="245.7" width="18.86" height="3.1" fill="#4DAD84"/>
<rect x="1763.05" y="247.8" width="18.86" height="16.2" fill="#D9601F"/>
<rect x="1763.05" y="263" width="18.86" height="6" fill="#7570B3"/>
<rect x="1763.05" y="268" width="18.86" height="40.8" fill="#E7369A"/>
<rect x="1763.05" y="307.8" width="18.86" height="8" fill="#6BAE2E"/>
<rect x="1763.05" y="314.8" width="18.86" height="67.7" fill="#DCAE30"/>
<rect x="1763.05" y="381.5" width="18.86" height="5.6" fill="#A77A2C"/>
<rect x="1763.05" y="386.1" width="18.86" height="8.6" fill="#676767"/>
<rect x="1763.05" y="393.7" width="18.86" height="29.7" fill="#4181BE"/>
<rect x="1763.05" y="422.4" width="18.86" height="21.6" fill="#B45A2E"/>
<rect x="1763.05" y="443" width="18.86" height="140.8" fill="#6A3A9F"/>
<rect x="1763.05" y="582.8" width="18.86" height="57.7" fill="#B4E78F"/>
<rect x="1784" y="166.7" width="18.86" height="2.3" fill="#4DAD84"/>
<rect x="1784" y="168" width="18.86" height="2.3" fill="#D9601F"/>
<rect x="1784" y="169.3" width="18.86" height="11.4" fill="#7570B3"/>
<rect x="1784" y="179.7" width="18.86" height="16.5" fill="#6BAE2E"/>
<rect x="1784" y="195.2" width="18.86" height="310.1" fill="#DCAE30"/>
<rect x="1784" y="504.3" width="18.86" height="5" fill="#A77A2C"/>
<rect x="1784" y="508.3" width="18.86" height="4.9" fill="#676767"/>
<rect x="1784" y="512.2" width="18.86" height="11.2" fill="#4181BE"/>
<rect x="1784" y="522.4" width="18.86" height="13.4" fill="#B45A2E"/>
<rect x="1784" y="534.8" width="18.86" height="56" fill="#6A3A9F"/>
<rect x="1784" y="589.8" width="18.86" height="50.7" fill="#B4E78F"/>
<rect x="1676.1" y="3.5" width="129.9" height="28.5" fill="#D9D9D9"/>
<path d="M1676.1,640.5 V3.5 M1806,640.5 V3.5" stroke="#6E6E6E" stroke-width="1.6" fill="none"/>
<path d="M1675.3,3.5 H1806.8" stroke="#7A7A7A" stroke-width="1.6" fill="none"/>
<path d="M1675.3,32 H1806.8 M1675.3,640.5 H1806.8" stroke="#2E2E2E" stroke-width="1.6" fill="none"/>
<text x="1741.05" y="23" font-size="15" fill="#1A1A1A" stroke="#1A1A1A" text-anchor="middle">CE4</text>
<line x1="1688.67" y1="640.5" x2="1688.67" y2="645.3" stroke="#1E1E1E" stroke-width="1.7"/>
<text transform="translate(1690.07,647.9) rotate(-90)" font-size="15" fill="#4D4D4D" stroke="#4D4D4D" text-anchor="end">CE4_522</text>
<line x1="1709.62" y1="640.5" x2="1709.62" y2="645.3" stroke="#1E1E1E" stroke-width="1.7"/>
<text transform="translate(1711.02,647.9) rotate(-90)" font-size="15" fill="#4D4D4D" stroke="#4D4D4D" text-anchor="end">CE4_529</text>
<line x1="1730.57" y1="640.5" x2="1730.57" y2="645.3" stroke="#1E1E1E" stroke-width="1.7"/>
<text transform="translate(1731.97,647.9) rotate(-90)" font-size="15" fill="#4D4D4D" stroke="#4D4D4D" text-anchor="end">CE4_534</text>
<line x1="1751.53" y1="640.5" x2="1751.53" y2="645.3" stroke="#1E1E1E" stroke-width="1.7"/>
<text transform="translate(1752.93,647.9) rotate(-90)" font-size="15" fill="#4D4D4D" stroke="#4D4D4D" text-anchor="end">CE4_538</text>
<line x1="1772.48" y1="640.5" x2="1772.48" y2="645.3" stroke="#1E1E1E" stroke-width="1.7"/>
<text transform="translate(1773.88,647.9) rotate(-90)" font-size="15" fill="#4D4D4D" stroke="#4D4D4D" text-anchor="end">CE4_545</text>
<line x1="1793.43" y1="640.5" x2="1793.43" y2="645.3" stroke="#1E1E1E" stroke-width="1.7"/>
<text transform="translate(1794.83,647.9) rotate(-90)" font-size="15" fill="#4D4D4D" stroke="#4D4D4D" text-anchor="end">CE4_548</text>
<line x1="1109.9" y1="640.65" x2="1114.7" y2="640.65" stroke="#1E1E1E" stroke-width="1.7"/>
<text x="1104.5" y="646.05" font-size="15" fill="#4D4D4D" stroke="#4D4D4D" text-anchor="end">0.0e+00</text>
<line x1="1109.9" y1="526.44" x2="1114.7" y2="526.44" stroke="#1E1E1E" stroke-width="1.7"/>
<text x="1104.5" y="531.84" font-size="15" fill="#4D4D4D" stroke="#4D4D4D" text-anchor="end">5.0e+06</text>
<line x1="1109.9" y1="412.23" x2="1114.7" y2="412.23" stroke="#1E1E1E" stroke-width="1.7"/>
<text x="1104.5" y="417.63" font-size="15" fill="#4D4D4D" stroke="#4D4D4D" text-anchor="end">1.0e+07</text>
<line x1="1109.9" y1="298.02" x2="1114.7" y2="298.02" stroke="#1E1E1E" stroke-width="1.7"/>
<text x="1104.5" y="303.42" font-size="15" fill="#4D4D4D" stroke="#4D4D4D" text-anchor="end">1.5e+07</text>
<line x1="1109.9" y1="183.81" x2="1114.7" y2="183.81" stroke="#1E1E1E" stroke-width="1.7"/>
<text x="1104.5" y="189.21" font-size="15" fill="#4D4D4D" stroke="#4D4D4D" text-anchor="end">2.0e+07</text>
<line x1="1109.9" y1="69.6" x2="1114.7" y2="69.6" stroke="#1E1E1E" stroke-width="1.7"/>
<text x="1104.5" y="75" font-size="15" fill="#4D4D4D" stroke="#4D4D4D" text-anchor="end">2.5e+07</text>
<text x="1460.35" y="728.6" font-size="18.75" fill="#000" stroke="#000" text-anchor="middle">Samples</text>
<text transform="translate(1041.7,337.3) rotate(-90)" font-size="18.75" fill="#000" stroke="#000" text-anchor="middle">Read count (n)</text>
<text x="1835.1" y="158.5" font-size="18.75" fill="#000" stroke="#000">Genus</text>
<rect x="1836.2" y="171.8" width="27.4" height="26.8" fill="#4DAD84"/>
<text x="1874.2" y="190.6" font-size="15.25" fill="#000" stroke="#000">Agathobaculum</text>
<rect x="1836.2" y="201.7" width="27.4" height="26.8" fill="#D9601F"/>
<text x="1874.2" y="220.5" font-size="15.25" fill="#000" stroke="#000">Alistipes</text>
<rect x="1836.2" y="231.6" width="27.4" height="26.8" fill="#7570B3"/>
<text x="1874.2" y="250.4" font-size="15.25" fill="#000" stroke="#000">Bacteroides</text>
<rect x="1836.2" y="261.5" width="27.4" height="26.8" fill="#E7369A"/>
<text x="1874.2" y="280.3" font-size="15.25" fill="#000" stroke="#000">Barnesiella</text>
<rect x="1836.2" y="291.4" width="27.4" height="26.8" fill="#6BAE2E"/>
<text x="1874.2" y="310.2" font-size="15.25" fill="#000" stroke="#000">Blautia</text>
<rect x="1836.2" y="321.3" width="27.4" height="26.8" fill="#DCAE30"/>
<text x="1874.2" y="340.1" font-size="15.25" fill="#000" stroke="#000">Faecalibacterium</text>
<rect x="1836.2" y="351.2" width="27.4" height="26.8" fill="#A77A2C"/>
<text x="1874.2" y="370" font-size="15.25" fill="#000" stroke="#000">Flavonifractor</text>
<rect x="1836.2" y="381.1" width="27.4" height="26.8" fill="#676767"/>
<text x="1874.2" y="399.9" font-size="15.25" fill="#000" stroke="#000">Lachnoclostridium</text>
<rect x="1836.2" y="411" width="27.4" height="26.8" fill="#4181BE"/>
<text x="1874.2" y="429.8" font-size="15.25" fill="#000" stroke="#000">Ruminococcus</text>
<rect x="1836.2" y="440.9" width="27.4" height="26.8" fill="#B45A2E"/>
<text x="1874.2" y="459.7" font-size="15.25" fill="#000" stroke="#000">Subdoligranulum</text>
<rect x="1836.2" y="470.8" width="27.4" height="26.8" fill="#6A3A9F"/>
<text x="1874.2" y="489.6" font-size="15.25" fill="#000" stroke="#000">Other</text>
<rect x="1836.2" y="500.7" width="27.4" height="26.8" fill="#B4E78F"/>
<text x="1874.2" y="519.5" font-size="15.25" fill="#000" stroke="#000">Unassigned</text>
<text x="9" y="34.9" font-size="31.5" font-weight="bold" fill="#000">A</text>
<text transform="translate(1036.6,34.4) scale(0.85,1)" font-size="29.6" font-weight="bold" fill="#000" stroke="#000" style="stroke-width:0.9px">B</text>
</svg></body></html>
